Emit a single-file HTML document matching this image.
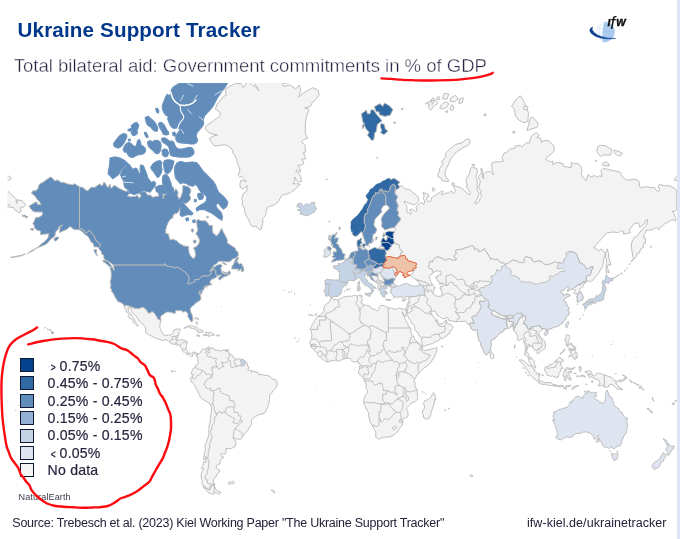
<!DOCTYPE html>
<html lang="en">
<head>
<meta charset="utf-8">
<title>Ukraine Support Tracker</title>
<style>
html,body{margin:0;padding:0;background:#fff;}
body{width:680px;height:539px;position:relative;overflow:hidden;font-family:"Liberation Sans",Arial,sans-serif;}
#strip{position:absolute;left:677px;top:0;width:3px;height:539px;background:#dbe7f7;}
#title{position:absolute;left:17.5px;top:17.9px;font-size:20.6px;line-height:24px;font-weight:bold;color:#00378a;white-space:nowrap;letter-spacing:0.155px;}
#subtitle{position:absolute;left:13.8px;top:54.7px;font-size:18.6px;line-height:22px;color:#262240;white-space:nowrap;letter-spacing:-0.04px;-webkit-text-stroke:0.42px #fff;}
#map{position:absolute;left:0;top:0;width:680px;height:539px;}
#legend{position:absolute;left:0;top:0;}
.lg{position:absolute;left:20px;width:14px;height:14px;box-sizing:border-box;border:1px solid #101a33;}
.lt{position:absolute;left:47.6px;font-size:14.1px;line-height:16px;color:#26263f;white-space:nowrap;letter-spacing:0.2px;-webkit-text-stroke:0.2px #26263f;}
.ch{display:inline-block;width:7.9px;font-size:10.5px;line-height:10px;text-indent:1.6px;letter-spacing:0;-webkit-text-stroke:0.35px #26263f;transform:scale(0.8,1.08);transform-origin:8px 60%;}
#ne{position:absolute;left:18.5px;top:492px;font-size:9.1px;line-height:11px;color:#3f3f50;white-space:nowrap;letter-spacing:0.1px;}
#source{position:absolute;left:12.3px;top:516px;font-size:12.5px;line-height:14px;color:#22223a;white-space:nowrap;letter-spacing:-0.245px;}
#url{position:absolute;left:527px;top:516px;font-size:12.5px;line-height:14px;color:#22223a;white-space:nowrap;letter-spacing:0.05px;}
#logo{position:absolute;left:580px;top:5px;width:60px;height:45px;}
#anno{position:absolute;left:0;top:0;width:680px;height:539px;pointer-events:none;}
.c0{fill:#f3f3f3;stroke:#bbbbbb;stroke-width:0.95;stroke-linejoin:round;}
.c1{fill:#dee5f0;stroke:#bbbbbb;stroke-width:0.95;stroke-linejoin:round;}
.c2{fill:#c4d4e6;stroke:#bbbbbb;stroke-width:0.95;stroke-linejoin:round;}
.c3{fill:#94b0d2;stroke:#bbbbbb;stroke-width:0.95;stroke-linejoin:round;}
.c4{fill:#628dba;stroke:#bbbbbb;stroke-width:0.95;stroke-linejoin:round;}
.c5{fill:#3069a3;stroke:#bbbbbb;stroke-width:0.95;stroke-linejoin:round;}
.c6{fill:#04428e;stroke:#bbbbbb;stroke-width:0.95;stroke-linejoin:round;}
.ua{fill:#efc2aa;stroke:#e2613a;stroke-width:1;stroke-linejoin:round;}
.s4{stroke:#6b93be;stroke-width:1.1;}
.s5{stroke:#3069a3;stroke-width:0.6;}
.bd{fill:none;stroke:#bbbbbb;stroke-width:0.95;stroke-linejoin:round;}
.wl1{fill:none;stroke:#fff;stroke-width:1.5;stroke-linecap:round;stroke-linejoin:round;}
.wl2{fill:none;stroke:#fff;stroke-width:1.1;stroke-linecap:round;stroke-linejoin:round;}
.wl3{fill:none;stroke:#fff;stroke-width:0.7;stroke-linecap:round;stroke-linejoin:round;}
</style>
</head>
<body>
<div id="strip"></div>
<svg id="map" viewBox="0 0 680 539" width="680" height="539">
<defs><clipPath id="mc"><rect x="7.8" y="83" width="669.2" height="425"/></clipPath></defs>
<g clip-path="url(#mc)">
<path class="c0" d="M260,229.9 255.7,226.4 252,226.3 250.3,224.2 249,220.3 245.9,215.4 244.9,212.4 244.6,208.5 242,204.4 242.7,201.1 241.5,199.2 243.3,193.5 246.1,191.8 246.8,189.5 247.2,185.5 245.1,187.1 244,188.2 242.3,188.7 240.1,187.1 240,183.3 240.7,180.5 242.5,180.5 246.3,181.6 243.1,178.2 241.4,176.2 239.6,177 238.1,175.6 240.1,169.8 239,167.3 237.5,163.1 235.3,155.9 232.8,153.1 232.8,150.1 227.8,145.6 223.9,144.8 218.9,145.6 214.4,145.9 212.3,143.2 209,138.4 213.9,135.9 217.6,135 209.8,133.3 205.5,129.4 205.8,126.1 212.7,121.4 219.6,116.4 220.4,112.7 215.4,109.1 216.9,104.7 223.4,96.5 226.1,95.3 225.3,89.3 229.7,86.3 235.5,83.6 241.2,83.6 243.3,87.6 248.1,80.8 252.6,85.5 255.2,86.4 259.1,90.8 254.6,83.6 254.8,78 261.1,68.9 267.7,68.9 270.1,64.1 276.6,62.4 291.5,64.1 303.2,76.5 299.7,82.2 292.6,82.2 282.5,83.6 283.5,86.3 290,85 295.8,88.9 299.3,85 300.8,90.2 298.7,97.1 303.6,92.8 312.5,87.6 318.1,90.2 319.2,95.3 311.6,103.6 310.6,106.4 304.6,108 309,109.1 306.7,116.4 305.3,122.8 305.3,133.3 307.5,138.4 304.7,139.2 301.5,141.6 305.1,145.6 305.4,152.3 303.4,152.6 305.8,158.7 301.7,159.4 303.9,162.1 303.3,164.1 300.6,165.4 298,165.4 300.4,169.8 300.4,172.3 296.7,169.8 295.8,171.7 298.4,172.9 300.8,176.5 301.4,181.3 298.2,182.2 296.7,180.2 294.5,177 295,180.8 292.8,183.8 297.8,183.8 300.3,184.4 295.4,188.9 290.4,192.8 284.8,194.8 282.7,194.8 280.9,196.8 278.3,201.6 274.3,205 273,205.1 270.4,206.2 267.8,207.1 266.2,210.2 266.2,213.3 265.2,215.8 262.3,219.1 263,222.3 262.1,225.4 261.1,229.2Z"/>
<path class="c4" d="M79.5,186.8 83,187.6 86,190.3 87.9,190.8 89.5,188.7 91.8,187.1 94.6,187.6 97.4,185.5 100.3,183.8 101.6,186 102.9,184.9 103.5,182.2 104.8,182.7 107.8,187.6 110.4,183.8 110.6,188.2 112.8,187.1 113.5,185.5 115.8,186 118.8,188.2 123,190.3 125.6,191.3 127.5,190.8 129.9,193.3 127.3,195.8 130.7,196.8 135.7,196.3 137.4,195.3 139.2,198.3 141.3,195.8 139.4,193.8 140.5,192.1 142.9,191.8 144.3,191.3 145.9,192.3 147.8,195.3 149.8,194.8 153,197.3 156,196.3 158.8,196.3 158.4,193.3 160.1,192.3 163.1,194.3 163.1,198.8 164.2,194.8 165.7,194.8 166.6,189.7 164.5,186.6 162.3,184.4 162.5,178.2 164.7,174.1 167.1,174.7 169,177.6 171.6,183.8 169.9,186.6 173.5,187.6 173.3,192.8 175.9,188.7 178.1,192.3 177.6,195.8 179.2,199.2 181.3,195.8 182.6,191.3 182.8,185.5 185.4,186 188.2,186.6 190.6,189.2 190.8,191.8 189.4,194.8 190.6,197.3 190.4,199.7 186.9,203 184.3,203.5 182.2,202.1 181.7,204.4 180,208.5 179.4,210.2 177.2,213.3 174.6,213.7 173.1,215.4 172.9,218 170.9,218.7 168.5,221.9 166.6,226.2 165.8,229.2 165.7,233.6 168.5,233.9 169.2,237.5 170.1,239.9 172.7,239.2 176.3,240.6 178.1,242 179.4,243.6 181.7,244.6 183.7,245.9 186.7,246.3 188.7,246.6 188.6,249.2 189.1,252.3 190.4,255.7 193.2,258.7 194.7,257.8 195.6,254.5 194.7,249.8 193.4,247.9 196.4,246.6 198.4,244.3 199.5,242 199.3,239.6 198,236.4 195.8,233.9 198,229.9 197.1,226.5 196.6,220.7 197.9,219.5 201,220.7 202.9,221.1 204.6,220.3 206.2,221.5 208.5,223.8 209,225.4 212.4,225.4 212.4,228.8 212.9,233.2 214.6,233.9 216.1,236.1 218.7,233.9 220.6,229.9 221.7,228.4 223.2,231.8 225.6,236.1 227.6,240.4 226.9,242.6 229.3,244.3 235.3,248.2 236,250.7 237.3,251.4 238.1,252.3 238.2,256 236.9,256.9 235.6,258.1 232.5,259 230.2,261.6 227.1,261.9 223,261.3 220.2,261.3 218.3,261.6 216.8,263.7 214.4,264.8 211.7,268.7 209.6,271.2 211.1,270.7 214.1,267.1 218.1,264.8 220.8,264.5 222.4,265.9 220.8,267.6 221.3,270.7 221.9,272.8 224.3,274.2 227.5,273.6 229.3,270.7 229.5,272.5 230.6,273.6 228.4,275.2 224.2,276.8 222.3,277.8 220.2,279.9 218.9,279.7 218.7,277.3 222.1,275.2 219.1,275.2 217,275.7 215.7,274.2 215.7,270.4 215,269.7 213.7,270.1 213.1,269.6 211.6,271.5 211.1,273.6 210.3,275 209,275.4 208.8,276 202.5,276 199.7,278.4 199,279.7 195.4,279.7 194.5,279.9 194.9,280.4 195.1,281.4 192.6,282.7 190.6,283.2 188.6,284.5 187.3,283.5 188.6,281.2 189.1,279.7 188.2,275.2 186.3,273.9 186.5,273.4 185.4,272 184.1,271.7 180.9,269.1 177.4,267.1 175.7,268 175.2,267.9 172.9,267.1 169.6,266.6 166.4,265.9 165.8,265.7 165.5,263.9 164.7,263.9 164.8,265.1 113.3,265.1 112.6,264.2 109.5,262.2 108.1,261.1 104.8,259.9 103.7,257.2 104,255.4 101.6,253.9 101.3,251.4 99,249.2 98.8,247.6 100,245.9 100,243.6 96.6,241.6 93.6,235.4 90.8,232.1 89.7,230.3 86,233.2 83.2,229.6 79.5,228.4 79.5,186.8Z"/>
<path class="c4" d="M79.5,186.8 79.5,228.4 83.2,229.6 86,233.2 89.7,230.3 90.8,232.1 93.6,235.4 96.6,241.6 100,243.6 100,245.9 98.8,247.6 96.8,246.9 94,246.9 93.4,243.6 91,242 89.4,238.5 87.7,236.1 85.3,234.7 81.7,231 78.6,229.6 74.1,229.6 70.2,226.5 66.5,229.6 63.7,230.7 59.4,232.5 60.1,226.9 62.7,225 59.6,226.2 57.9,229.6 55.5,232.1 54.9,236.1 51,238.9 47.1,243.6 43.2,245.6 38.7,247.2 35.2,248.8 38.5,246.6 41.3,244 44.1,242 47.8,238.2 49,233.9 46.9,233.9 43.6,234.3 40.4,234.7 40.6,231 37.1,230.3 34.3,227.7 34.3,225.4 32.8,223.8 35,219.5 35.6,217.4 38.5,217.4 41.3,215.8 42.6,214.5 42.3,212 41.3,212 38.9,212 35,212 32.2,210.7 29,206.2 31.7,204.4 35.7,202.1 37.2,202.1 37.1,204.4 41,204.4 39.5,201.6 37.2,199.7 35.9,197.3 34.1,195.3 31.5,193.3 32.6,190.8 35.9,190.8 38.2,188.2 38.7,185.5 40.6,183.3 42.4,182.7 46,179.9 50.5,177 53.2,178.8 54.7,181.1 57.2,179.9 58.6,180.5 61.4,182.7 63.3,182.2 67.2,183.8 70.7,184.4 72.2,184.9 74.6,183.8 77.4,185.5Z"/>
<path class="c4" d="M217,275.7 217.2,276.5 215.4,277.8 213.3,278.7 211.4,279.4 210.5,280.9 210.1,281.4 210.1,283 210.7,284.2 211.4,284.2 211.3,283.5 211.8,284 211.7,284.7 210.5,285 209.6,285 208.2,285.5 207.4,285.5 206.2,285.7 204.7,286.4 207.5,285.9 208.1,286.4 205.5,287.2 204.2,287.2 203.7,287.4 204.3,287.7 203.8,289.4 202.5,291.3 202.4,290.6 202,290.5 201.4,289.9 201.8,291.2 202.2,291.5 202.2,292.5 201.6,293.4 200.7,295.3 200.5,295.2 201,293.7 200.1,292.7 199.8,290.7 199.5,291.8 199.9,293.2 198.6,293 199.9,293.7 200,295.8 200.5,296 200.7,296.8 201,299.1 199.7,300.8 197.9,301.5 196.6,302.9 195.7,303 194.8,303.8 194.5,304.5 192.5,306 191.4,307 190.5,308.3 190.2,309.8 190.6,311.3 191.2,313.2 192.1,314.6 192.1,315.6 192.9,318 192.8,319.4 192.8,320.3 192.3,321.5 191.8,321.8 190.8,321.5 190.5,320.6 189.9,320.1 188.9,318.3 188,316.7 187.7,315.9 188.1,314.5 187.6,313.3 186.1,311.6 185.4,311.2 183.5,312.2 183.2,312.1 182.3,311.1 181.1,310.6 179,310.8 177.4,310.6 175.9,310.8 175.2,311.1 175.5,311.7 175.5,312.5 175.9,312.9 175.5,313.2 174.8,312.9 174.1,313.3 172.8,313.2 171.4,312.1 169.8,312.4 168.5,311.9 167.2,312.1 165.7,312.5 164,314.1 162.1,315 161.1,316 160.7,317 160.7,318.4 160.8,319.4 161.1,320.1 160.4,320.2 159.1,319.7 157.6,319.1 157.1,318.1 156.7,316.6 155.6,315.4 154.9,314.2 154,312.8 152.7,311.9 151.2,311.9 150,313.6 148.5,313 147.5,312.3 147,311.2 146.4,310 145.3,309.1 144.4,308.4 143.7,307.6 140.5,307.6 140.5,308.5 135.3,308.5 131,307 128.2,305.9 128.4,305.5 123.9,305.9 123.6,304.8 122.4,303.5 121.5,303.2 121.3,302.6 120.3,302.5 119.6,301.9 117.9,301.6 117.4,301.3 117.2,300 115.4,297.7 113.8,294.5 113.9,294 113.1,293.2 111.6,291.2 111.4,289.2 110.4,287.9 110.8,285.8 110.8,283.7 110.1,281.8 110.9,279.4 111.3,274.7 111,271 110.4,268.7 109.8,267.4 110.1,266.8 112.8,267.8 113.8,270.4 114.2,269.7 113.9,267.4 113.3,265.1 164.8,265.1 164.7,263.9 165.5,263.9 165.8,265.7 166.4,265.9 169.6,266.6 172.9,267.1 175.2,267.9 175.7,268 177.4,267.1 180.9,269.1 184.1,271.7 185.4,272 186.5,273.4 186.3,273.9 188.2,275.2 189.1,279.7 188.6,281.2 187.3,283.5 188.6,284.5 190.6,283.2 192.6,282.7 195.1,281.4 194.9,280.4 194.5,279.9 195.4,279.7 199,279.7 199.7,278.4 202.5,276 208.8,276 209,275.4 210.3,275 211.1,273.6 211.6,271.5 213.1,269.6 213.7,270.1 215,269.7 215.7,270.4 215.7,274.2 217,275.7Z"/>
<path class="c0" d="M123.9,305.9 124.7,308 126,309.7 126.6,312.1 129.4,314.4 129.4,315.5 127.8,316.3 128.6,317.6 130.5,318.6 132,319.2 133.1,320.9 133.2,322.5 134.2,323.1 135.4,324 136.6,325.2 137.4,326.4 138.3,325.6 138.3,325.2 137.5,324 136.8,323.4 135.9,322.3 134.8,320.5 134.2,318.4 132.5,317.4 132,316.1 131.4,314.8 131,314 129.7,312.3 128.4,311.1 128.1,308.4 128.3,307.5 131.3,308.9 131.7,311.4 133,313 134.2,314.6 136.1,316 137.6,318.4 138.5,319 138.6,320.7 140.2,321.6 141.1,322.9 143,324.4 144.6,326.4 145.2,327.4 145.6,329.2 146,329.8 145.6,330.4 145.7,331 145.2,331.2 146.5,333.4 148.4,334.6 149.3,335.3 152.1,336.1 153.9,337.5 156,338.3 157.8,338.9 160.8,340 163.2,340.5 165.7,339.4 168.1,340.6 170.3,342.7 172.2,343.9 174.2,344.3 175.7,344.6 177.2,345.2 178.5,344.8 179.1,345.6 179.4,345.6 180.9,347.3 182.4,349.2 182,350.7 183.5,352 184.5,352 186.3,353.6 186.5,354.2 187.6,354.9 189.3,354.7 190.2,355.6 191.3,356.6 192.3,356.4 193,356 192.3,354.5 194.7,353.2 195.8,354.3 196.4,354.5 196.9,356.6 198,353.8 195.8,352.4 193.8,352 191.3,353.4 190.4,353.6 188.9,352.8 188.3,352.1 186.7,350.5 186.2,349.5 185.8,348.7 186.5,346.7 186.4,345.4 187.1,343.1 187.2,341.8 184.8,340.1 183,340 181.9,339.8 180,340.1 178.3,340.1 177.8,340.4 176.4,340 177.6,338.9 177.9,335.7 177.6,335 178.5,335.4 179.2,333 179.2,331.5 180.3,330.3 180.4,329.4 179.9,329 177.2,329 173.8,330 173.5,330.6 173.6,332.2 171.8,334.2 170.7,334.6 169.2,335 166.2,335.7 163.4,334.3 162.1,332.2 161,330.8 160.1,328.2 159.8,327.2 160.1,323.4 161.1,320.1 160.4,320.2 159.1,319.7 157.6,319.1 157.1,318.1 156.7,316.6 155.6,315.4 154.9,314.2 154,312.8 152.7,311.9 151.2,311.9 150,313.6 148.5,313 147.5,312.3 147,311.2 146.4,310 145.3,309.1 144.4,308.4 143.7,307.6 140.5,307.6 140.5,308.5 135.3,308.5 131,307 128.2,305.9 128.4,305.5 123.9,305.9Z"/>
<path class="bd" d="M170.3,342.7 170.5,341.6 171.2,339.6 173.5,339.6 173.7,339.1 171.8,337.4 172.5,337.4 172.5,336.3 176,336.3 176,337.9 175.9,340 176.4,340M176,336.3 177.6,335M174.2,344.3 175,343.3 175.6,342.9 176,342.3 177.8,340.4M175.6,342.9 177.2,343.7 178.5,344.8M179.4,345.6 180.5,345 181.7,343.7 183.5,342.6 184.8,342.3 187.2,341.8M182.4,349.2 184.3,349.4 186.2,349.5M187.6,354.9 187.6,353 188.3,352.1"/>
<path class="c0" d="M183.8,328.3 184.8,327.6 186.5,326.6 188.4,325.8 190.4,325.8 191.9,325.8 193.6,326.5 196.1,327 198.3,328.7 199.5,329.6 201.2,330 202.5,330.6 203.8,331.4 203.6,331.9 201.2,332.3 197.3,332.3 198.4,331.2 197.7,330.7 196.6,330.5 195.8,330 195.4,328.8 194.3,328.9 192.6,328.4 189.7,327.6 188.9,327.2 187.8,326.6 185.8,327.7 184.6,328.4Z"/>
<path class="c0" d="M203.3,335.2 204,334.6 206.6,335.1 206.4,333.8 205.3,332.8 205.7,332.2 206.8,332.3 208.5,332.6 210.1,332.2 211.6,332.7 212.1,333.4 213.1,333.4 214.1,334.1 214.8,334.8 214.1,335.5 211.7,335.1 210.7,335.6 209.8,335.4 209,336.7 208.5,335.9 207.2,335.5 205.2,335.5 204.4,335.9Z"/>
<path class="bd" d="M208.5,332.6 208.7,333.6 208.5,334.4 207.9,335.3 208.5,335.9"/>
<path class="c0" d="M196.2,335.4 197.1,334.9 198.8,335.1 200.1,336.1 198.8,336.2 198.2,336.5 196.4,335.5Z"/>
<path class="c0" d="M216.8,335 218.5,335 219.8,335.5 219.4,336 216.8,336Z"/>
<path class="c0" d="M226.7,351.1 228.4,351.1 228.6,349.7 227.1,349.9Z"/>
<path class="c0" d="M196.4,321.5 196.9,321.5 197.7,323.4 197.1,324.6 196,322.7Z"/>
<path class="c0" d="M197.1,317.8 198.6,318.6 198.2,320.1 197.9,319.9 198,318.8 197.1,318.6 195.1,319 194.9,318.2Z"/>
<path class="c4" d="M238.4,258.4 237.5,260.2 236.2,262.8 237.5,261.8 238.6,262.5 238.1,263.4 239.7,264.2 240.5,263.5 242.3,264.4 241.8,266.5 243.1,265.9 243.3,267.4 243.9,269.3 243.1,271.6 242.3,271.7 241,271.2 241.5,269 241,268.6 238.8,270.9 237.7,270.9 239,269.6 237.2,269 235.3,269 231.6,269 231.4,268.2 232.5,267.2 231.7,266.5 233.2,264.8 235.2,260.2 236.4,258.4 237.9,257.5 238.8,257.5Z"/>
<path class="c4" d="M222.8,271.3 224.1,272.3 226.5,272.1 225.6,273.4 224.8,273.4 222.6,272.3Z"/>
<path class="c4" d="M221.9,262.6 224.7,263.1 226.9,264.8 224.8,264.5 222.4,263.1Z"/>
<path class="c4" d="M102.9,259.9 107.4,261.3 108.5,262.2 112.1,266.5 111.1,266.8 108,265.7 107.5,264.5 105.8,263.7 105.5,262.8 103.6,262.2 102.9,260.8Z"/>
<path class="c4" d="M94,249.5 96.8,249.8 96.2,253.2 97.7,255.7 97,255.7 95.9,254.5 95.3,252.9 94.3,252Z"/>
<path class="c4" d="M57.2,239.9 55.3,241.3 54.4,240.3 54,238.5 55.7,237.5 56.8,236.9 58,237.1 58.8,238.2Z"/>
<path class="c4" d="M22.3,214.5 23.5,215.4 24.6,214.9 26.1,216.2 27.9,216.6 27.7,217 26.4,217.9 25,217 24.2,216.2 22.6,216.6Z"/>
<path class="c4" d="M30.4,228.8 33,228.4 33.7,229.9 32.6,230.3 30.4,229.6Z"/>
<path class="c4" d="M35.2,248.8 32,250.4 29.2,252 27.4,253.6 29.2,252.6 31.8,251.4 35,249.5Z"/>
<path class="c4" d="M25.5,253.9 20.9,255.4 17.1,256 13.4,256.9 10.6,257.2 13.2,257.5 17.5,256.6 21,256Z"/>
<path class="c4 s4" d="M175,166.2 176.9,163.1 180,161.5 183.1,161.9 185.6,162.8 188.8,162.2 192.5,162 196.2,162.5 198.8,165 200.6,167.5 203.1,171.2 206.9,175 210,178.1 213.1,181.2 215.6,185 216.9,188.8 218.8,192.5 222.5,195.6 225.3,198.5 227.9,202.1 226.7,206.5 223.5,209.1 220.9,206.5 218.2,202.9 215.6,205.1 217.3,208.6 220.9,212.1 222.6,216.7 221.8,220.2 219.1,218.5 215.1,215.6 212.1,213.2 208,211.4 204.1,209.6 200.2,209.6 196.7,211.1 196.2,208.2 199.7,205.6 203.2,203.8 206.2,201.2 206.8,196.8 204.1,194.1 201.5,192.4 199.2,189.7 197.4,186.2 195.3,184.4 192.6,186.2 189.1,185.3 186.5,183.5 182.6,182.6 180.6,183.8 178.1,181.2 175.6,178.1 174.8,173.8 174.4,170Z"/>
<path class="c4 s4" d="M180,203.1 182.8,202.5 185.6,206 189.4,210 193.1,213.5 191.2,215 188.1,214.4 185,215.6 182.2,216.5 180,214.8 180.8,208.8Z"/>
<path class="c4 s4" d="M198,193.6 201.8,193 203.5,196 202.6,199 199.2,199.6 197.8,196.6Z"/>
<path class="c4 s4" d="M194.5,199.5 196.5,199.8 196,202 194.3,201.5Z"/>
<path class="c4 s4" d="M192.6,220.6 194.9,219.7 195.3,222.3 193.2,222.7Z"/>
<path class="c4 s4" d="M185.6,218.5 188.2,217.8 188.6,220.2 186.5,220.9Z"/>
<path class="c4 s4" d="M180,83.1 227.5,83.1 225,87.5 221.9,91.2 219.4,95 216.9,98.8 215,102.5 213.1,106.2 210,110 206.9,113.1 204.4,116.2 203.1,120 203.8,123.8 201.9,126.9 199.4,130 197.2,132.5 196,136.2 197.8,140 196.5,142.5 193.8,144 190.6,144 187.5,143.5 184.4,143.2 181.2,143 178.5,142.5 176.5,141 175.6,138.1 176.5,135 178,132.5 180,130.5 179.4,128.8 176.9,127.8 174.4,128.5 171.9,127.5 170,125 168.8,121.9 167.5,118.8 168.8,116.9 165.6,115 163.8,112.5 162.5,109.4 162.2,106.2 163.1,103.1 164.4,100 165.6,96.9 166.9,94.4 170,95.6 171.5,92.5 171.2,90 173.1,87.2 176.5,85Z"/>
<path class="wl1" d="M170.8,92.5 172.8,98.5 175.6,102.2 179.8,105 184.4,105.4 189.4,104.6 193.1,102.8 196,100.2"/>
<path class="wl2" d="M180,105.2 180.8,111.2 183.8,116.2 183.2,119 180.6,121.9 178.5,125.6 177.8,129"/>
<path class="wl3" d="M187.5,109.4 191.5,114M180.6,100.6 183.5,95.2M194,100.6 197.2,95.2M215,95 221.5,91M199.4,116.9 203.1,120M181.2,129.4 183.8,133.8M187.5,83.8 193.1,86"/>
<path class="c4 s4" d="M161.5,138.5 164.6,137.7 167.2,139.2 169.4,141.2 172.1,141 173.8,142.1 174.7,144.7 176,147.4 178.2,148.7 181.8,149.1 185.3,148.2 188.8,147.4 191.9,147.8 193.7,150 194.1,152.7 192.8,154.9 190.2,156.6 187.1,157.1 183.5,156.9 180,157.1 176.5,156.6 172.9,156.2 170.8,155.3 169.9,152.7 169.6,150 169,147.4 167.7,145.6 165.9,144.3 163.7,142.9 161.9,140.8Z"/>
<path class="c4 s4" d="M162.4,131.5 165.4,131 168.5,131.9 168.7,133.7 166.3,134.6 163.2,134.1Z"/>
<path class="c4 s4" d="M161.9,150.6 164.4,148.8 167.2,149.8 168.5,153.1 167.5,156.2 165,156.9 162.5,155Z"/>
<path class="c4 s4" d="M164.4,160.6 167.5,159.8 171.2,160 174,161.2 173.1,165 171.9,168.8 170,171.9 167.5,173.8 165.6,173.1 164.4,170 163.8,166.2 163.5,163.1Z"/>
<path class="c4 s4" d="M155.6,109 157.2,108.1 158.8,110.6 158.5,113.1 156.9,112.5Z"/>
<path class="c4 s4" d="M145.2,117.5 148.1,116.2 151.2,118.8 153.8,121.2 156.2,124.4 157.8,128.1 157.5,131 155,131.2 152.5,129.4 150.6,126.9 148.1,125.6 146.5,123.1 145.6,120Z"/>
<path class="c4 s4" d="M158.8,123.1 161.2,122.2 163.8,124.4 165.6,127.5 167.5,131.2 168.8,133.8 166.9,135 163.8,134.4 161.9,131.2 160,128.1 158.8,125.6Z"/>
<path class="c4 s4" d="M131.2,125.6 134.4,123.1 136.9,122.5 138.8,125 138.1,128.1 136.9,130 137.5,133.1 135.6,135 133.1,135.6 131.2,133.1 131.9,130.6 129.4,131.2 127.8,130 129.4,129 131.9,128.1Z"/>
<path class="c4 s4" d="M113.5,143.8 115.6,140.6 118.1,137.5 120.6,135 123.8,133.5 126.5,134.4 126.9,136.9 125.6,139.4 124.4,142.5 122.5,145 120.6,146.9 118.8,148.1 116.2,147.5 114,146.2Z"/>
<path class="c4 s4" d="M144.4,132.5 146,132.2 147.5,135 148.1,137.2 146.5,137.5 145,135Z"/>
<path class="c4 s4" d="M123.8,147.5 125.6,144.4 128.1,142.5 130.6,143.1 133.1,145.6 135.6,146.9 136.9,143.8 137.5,140.6 139.4,139.4 140.6,141.9 141,145 143.1,146.2 145.2,148.1 145.6,151.2 143.8,153.8 140.6,154.4 137.5,155 135,156.2 132.5,157.5 130,156.9 128.1,155 126.9,152.5 124.4,151.9 123.1,150Z"/>
<path class="c4 s4" d="M147.5,141.9 150,140.6 152.5,141.9 155,140.2 158.1,140.6 160.6,142.5 161.2,146.2 160.6,150 158.8,153.1 156.2,153.8 154.4,151.9 152.5,150 150,148.1 148.1,145.6Z"/>
<path class="c4 s4" d="M172.5,132.8 174.4,131.9 175.9,134 175,136.2 173.1,135.6Z"/>
<path class="c4 s4" d="M128.1,139.4 130,139 130.6,140.6 128.8,141Z"/>
<path class="c4 s4" d="M110,158.1 115,156.9 120,158.1 123.8,160 126.9,162.5 129,164.8 126.2,165.6 123.1,167.5 120.6,170.6 118.8,174.4 115.6,176.9 112.5,178.8 110.6,176.2 108.1,173.8 108.5,170 109.4,166.2 109.8,161.9Z"/>
<path class="c4 s4" d="M129.4,164.4 126.9,166.2 123.8,168.1 121.2,171.9 120.6,175 121.9,178.1 123.8,181.2 124,185 125,187.5 128.1,189.8 130,193.1 133.8,194.6 137.5,193.5 141.2,191.9 143.8,190.2 145.6,191 150,192.2 152.5,188.8 155,186.2 155.6,183.1 153.8,181.2 151.2,182.5 149.4,180 147.5,177.5 146.9,174.4 145.6,171.2 144.4,168.1 143.1,165.6 140.6,165 140,168.8 140.6,173.1 139.8,174.4 138.1,171.2 136.9,168.8 135,168.1 133.1,169.4 131.2,167.5 130,165.6Z"/>
<path class="wl3" d="M124,182.2 133.1,182.8M122.5,176.9 125.6,176.2"/>
<path class="c4 s4" d="M150.6,167.5 153.1,163.8 156.9,161.2 160,160.6 161.9,162.5 161.2,166.2 162.1,169.4 161.2,173.1 159.4,176.2 157.5,177.5 155.6,175 153.8,171.9 151.9,170Z"/>
<path class="c4 s4" d="M155.6,187.5 158.8,185.6 161.9,185.2 165,186.9 167.5,190 166.2,193.1 162.5,193.8 158.8,193.1 156.2,191.2Z"/>
<path class="c4 s4" d="M163.1,175.6 165.6,174.8 168.1,176.5 169.8,180.6 171,184.4 172.2,187.5 173.8,190 173.1,193.1 170,193.8 166.9,193.1 165,190 163.8,186.2 162.8,182.5 162.5,178.8Z"/>
<path class="c4" d="M51.5,332.5 51.8,331.5 53.1,332.1 53.8,333 52.4,333.8 51.8,333.8Z"/>
<path class="c4" d="M50.3,330.2 51.1,330.2 51.6,330.5 50.8,330.8Z"/>
<path class="c4" d="M49.1,329.8 50.2,329.7 49.7,330Z"/>
<path class="c4" d="M47.4,328.9 47.9,328.7 48.4,329.4 47.7,329.4Z"/>
<path class="c4" d="M44.5,327.9 45.3,327.6 45.1,328.2Z"/>
<path class="c4" d="M191.3,229.2 192.8,228.8 193.6,230.5 192.9,232.3 191.5,231.6Z"/>
<path class="c4" d="M193.2,240.3 195.6,240 196.3,241.6 195.2,243.4 193.5,242.6Z"/>
<path class="c4" d="M206.5,216.5 208.2,216.2 208.6,217.6 207,218Z"/>
<path class="c4" d="M227.5,274.4 229.5,273.4 230.4,272.8 229.5,270.7 228.4,271.7 227.5,273.1Z"/>
<path class="c0" d="M198,353.8 199,353.9 200.3,352.6 201,352.4 201.4,350.2 202.5,349.2 203.6,349.2 205.3,349 207.5,347.6 208.4,346.7 209,346.7 209.6,347.3 209.2,347.9 209.1,348.5 208,348.6 208.7,349.5 208.7,350.4 207.7,351.5 208.5,353 209.3,352.9 209.7,351.6 209.1,350.9 209,349.5 211.3,348.6 211.1,347.8 211.8,347.2 212.4,348.5 213.7,348.6 215,349.6 215,350.3 216.7,350.3 218.7,350.1 219.7,350.9 221.1,351.1 222.2,350.6 222.2,350.1 226.7,350 225.2,350.5 225.8,351.4 227.3,351.5 228.8,352.5 229,354 230,353.9 230.7,354.4 231.9,355.1 233.1,356.3 233.1,357.3 233.8,357.3 234.8,358.2 235.5,358.9 237.8,359.2 238,358.9 239.5,358.8 241.5,359.3 242.2,359.5 243.5,359.9 245.5,361.5 245.8,362.3 246.4,362.2 246.9,363.2 247.9,366.5 248.9,366.8 248.9,368 247.6,369.6 248.1,370.1 251.4,370.4 251.5,372.3 252.9,371.1 255.2,371.7 258.3,372.9 259.2,374 258.9,375 261.1,374.4 264.7,375.4 267.5,375.3 270.3,376.9 272.6,379 274.1,379.5 275.7,379.6 276.3,380.2 277,382.6 277.3,383.7 276.5,386.8 275.6,388 273,390.7 271.8,392.8 270.4,394.5 269.9,394.5 269.4,395.9 269.6,399.5 269,402.5 268.8,403.8 268.2,404.6 267.9,407.2 266,409.8 265.7,411.9 264.2,412.7 263.8,413.9 261.8,413.9 258.8,414.7 257.5,415.6 255.4,416.2 253.2,417.9 251.6,419.9 251.4,421.4 251.7,422.6 251.4,424.7 250.9,425.7 249.6,426.9 247.6,430.7 245.9,432.4 244.6,433.5 243.8,435.6 242.6,436.8 241.8,438.3 239.7,439.5 238.3,439.1 237.3,439.3 235.6,438.3 234.3,438.4 233.2,437.1 233,438.3 235.4,440.3 235.2,441.9 236.3,442.9 236.2,444 234.4,447 231.7,448.3 227.9,448.8 225.9,448.5 226.3,450 225.9,451.8 226.2,453 225.1,453.9 223.2,454.2 221.4,453.3 220.7,454 221,456.4 222.2,457.2 223.2,456.4 223.8,457.7 222.1,458.5 220.6,460.1 220.3,462.7 219.9,464.1 218.1,464.1 216.7,465.4 216.1,467.5 218,469.4 219.7,470 219.1,472.5 216.9,474.1 215.7,477.4 214,478.5 213.2,479.9 213.8,483 215.1,484.8 214.3,484.6 212.6,484.6 211.7,485.3 210,486.4 209.8,489.3 209,489.4 206.9,488.4 204.7,486.3 202.4,484.5 201.8,482.6 202.4,480.8 201.4,478.9 201.2,474 202,471.3 203.9,469.2 201.1,468.4 202.9,466 203.5,461.6 205.6,462.5 206.6,457.2 205.3,456.6 204.7,459.8 203.6,459.4 204.1,455.8 204.8,451.2 205.6,449.6 205.1,447.2 205,444.6 205.7,444.5 206.9,440.8 208.2,437.2 209,433.8 208.5,430.6 209.1,428.8 208.9,426.1 209.9,423.6 210.3,419.5 210.9,415.3 211.5,410.8 211.3,407.5 210.9,404.8 209.1,403.6 208.9,402.8 205.2,400.9 201.9,398.8 200.4,397.6 199.7,396 200,395.4 198.4,392.9 196.6,389.4 194.8,385.7 194,384.8 193.5,383.4 192,382.2 190.7,381.4 191.3,380.6 190.4,378.8 191,377.5 192.5,376.3 193.4,375 193,374.1 192.3,375 191.2,374.2 191.6,373.7 191.3,372 191.9,371.7 192.3,370.5 193,369.3 192.9,368.6 193.9,368.2 195.1,367.4 194.9,366.9 195.6,366.7 195.5,365.8 195.9,365.1 196.9,365 197.7,363.8 198.4,362.8 197.7,362.4 198,361.3 197.6,359.6 198,359.1 197.7,357.5 197,356.5Z"/>
<path class="c0" d="M214.2,485.6 214.9,487.1 215.8,489.4 218.2,491.3 220.8,492.1 220,493.7 218.2,493.9 217.3,492.8 216.2,492.7 214.2,492.7 213.1,494.7 211.6,493.7 209.8,493.2 207.4,491.5 205.5,489.8 203,486.3 204.5,486.9 207.1,489 209.6,490.1 210.5,488.7 211.1,486.5 212.8,485.3Z"/>
<path class="c0" d="M228,483.2 230.2,481.4 231.8,482.2 232.9,481 234.4,482.3 233.9,483.4 231.4,484.3 230.5,483.2 228.9,484.6Z"/>
<path class="c0" d="M271.2,489.9 273.1,490.2 275.3,492.4 274.4,492.8 272.3,491.2Z"/>
<path class="c2" d="M241.5,359.3 242.2,359.5 243.5,359.9 245.5,361.5 245.8,362.3 244.7,364 244.1,365.3 243.4,366.1 242.5,366.2 242.2,365.7 241.8,365.6 241.2,366.1 240.4,365.7 240.9,364.9 241.1,364.1 241.4,363.3 240.7,362.2 240.5,360.9Z"/>
<path class="bd" d="M209.2,347.9 207.5,349.2 206.2,350.4 206,351.8 205.5,352.9 206.4,353 206.7,353.9 207.1,354.3 207.2,355.1 207,355.8 207.1,356.2 207.5,356.3 208,357 210.4,356.8 211.5,357 212.8,358.6 213.5,358.4 214.9,358.5 215.9,358.3 216.6,358.6 216.2,359.6 215.8,360.3 215.7,361.6 216.1,362.8 216.6,363.4 216.7,363.8 215.7,364.7 216.4,365.2 216.9,365.8 217.4,367.7M217.4,367.7 217.1,367.9 216.7,366.8 216.2,366.2 215.6,366.9 212,366.8 212,368 213.1,368.2 213,368.9 212.7,368.7 211.6,369 211.6,370.4 212.4,371 212.7,372.1 212.7,372.9 211.8,378M211.8,378 210.9,377 210.3,377 211.5,375.1 210.1,374.2 209,374.4 208.3,374 207.3,374.5 205.9,374.3 204.8,372.3 204,371.9 203.4,371 202.1,370.1 201.6,370.3M201.6,370.3 200.8,369.9 199.9,369.2 199.4,369.5 197.8,369.3 197.4,368.5 197,368.5 195.1,367.4M201.6,370.3 201.9,371.7 201.3,372.9 199.3,374.9 197,375.6 195.9,377.2 195.6,378.5 194.5,379.2 193.7,378.3 193,378.1 192.2,378.3 192.1,377.6 192.7,377.1 192.5,376.3M211.8,378 210.2,377.9 209.9,378.2 208.4,378.6 206.3,379.8 206.1,380.7 205.6,381.4 205.8,382.4 204.7,382.9 204.7,383.7 204.2,384 205,385.7 206,386.9 205.6,387.7 206.9,387.8 207.6,388.8 209.2,388.9 210.7,387.7 210.6,390.6 211.5,390.8 212.5,390.5M212.5,390.5 214.1,393.6 213.7,394.2 213.6,395.6 213.6,397.2 212.9,398.1 213.2,398.9 212.8,399.5 213.6,401.1 212.4,403.2 211.9,404.2 210.9,404.8M212.4,403.2 213.3,404.6 213.5,406 214.5,406.8 213.9,408.7 214.9,411 215.7,413.7 217,413.5 217.2,414 218.6,411.7 221,412.2 222.1,413.6 222.8,412 224.9,412.1 225.2,412.5M224.9,412.1 226,409 226.9,407.3 230.2,406.7 231.9,406.7 233.6,407.7 233.6,408.4M212.5,390.5 213.9,390.7 214.9,390.6 215.3,390.1 216.9,389.3 217.9,388.6 220.3,388.3 220.1,389.7 220.3,390.4 220.2,391.7 222.2,393.4 224.3,393.7 225,394.4 226.3,394.8 227.1,395.3 228.2,395.3 229.3,395.9 229.4,397 229.8,397.6 229.8,398.4 229.2,398.4 229.9,400.7 233.5,400.8 233.2,401.9 233.4,402.6 234.5,403.2 234.9,404.4 234.6,406 234.1,406.8 234.2,407.9 233.6,408.4M233.6,408.4 234.2,409.5 234.1,412.2 236.1,412.6 236.8,412.2 238.1,412.7 238.4,413.3 238.6,415.2 238.8,416 239.5,416 240.2,415.7 240.9,416.1 240.9,417.2 240.6,418.4 240.2,419.6M225.2,412.5 228.7,415.8 230.2,416.1 232.5,417.6 234.4,418.4 234.7,419.3 232.8,422.5 234.7,423.1 236.8,423.4 238.2,423 239.9,421.4 240.2,419.6M240.2,419.6 242.1,420.4 242.1,422.1 240.5,423.2 239.3,424.1 237.1,426.1 234.7,429.1M234.7,429.1 235.9,428.8 237.7,430.5 238.4,430.4 240.4,431.8 241.8,433 242.9,434.5 242.1,435.6 242.6,436.8M234.7,429.1 234.2,430.8 233.7,433 233.7,435.2 233.3,435.7 233.2,437.1M217,413.5 216.6,416.1 214.6,417.1 214.6,420.5 214.3,421.2 214.8,422 213.5,423.3 212.3,425.3 211.6,427.2 211.8,429.3 210.6,431.5 211.5,435.3 212,435.7 212,437.8 210.9,440 211,441.9 209.5,443.4 209.5,445.6 210.1,447.9 209,448.8 208.5,450.9 208.1,453.4 208.4,456.4 207.6,456.9 208.1,459.9 208.9,460.8 208.3,461.9 209.2,462.4 209.4,463.4 208.5,463.9 208.7,465.5 208.1,469 207.1,471.4 207.3,472.8 206.7,474.6 205.3,475.8 205.4,478.9 206.1,479.9 207.3,479.8 207.3,482 208.1,483.7 212.6,484.1 214.3,484.6M214.2,485.6 214.2,492.7M230.7,354.4 229.2,355.5 229.7,356.9 228.1,357.5 228.1,358.4 227.6,358.9 228.9,360.3 229.1,360.8 228.4,361.5 226.4,362.3 225,362.5 224.5,363 223,362.5 221.6,362.3 221.3,362.4 222.1,362.9 222,364.2 222.3,365.3 223.9,365.5 224,365.9 222.7,366.4 222.4,367.2 221.7,367.5 220.3,368 219.9,368.5 218.5,368.7 217.4,367.7M228.9,360.3 230.3,360.7 230,361.5 230.7,361.8 231.1,362.6 230.6,363.3 230.3,364.9 230.8,365.8 230.9,366.7 232,367.5 233,367.6 233.2,367.3 233.8,367.2 234.6,366.9 235.2,366.4 236.2,366.5 236.7,366.5M235.5,358.9 235.3,360.6 234.1,361 234.2,361.5 233.9,362.4 234.7,363.8 235.3,363.8 235.5,364.8 236.7,366.5 237.7,366.6 237.9,366.2 237.6,365.9 237.7,365.3 238.5,365.5 239.4,365.3 240.4,365.7"/>
<path class="c0" d="M330.9,298.6 332.3,298.6 333.4,299.6 335.1,299.5 337.1,300 337.9,300 339.7,298.8 341.7,298.3 342.8,297.4 344.7,296.7 347.8,296.3 350.9,296.1 351.8,296.4 353.6,295.5 355.6,295.5 356.3,296 357.6,295.9 359.6,295 360.9,295.2 360.9,296.4 362.4,295.6 362.6,296 361.6,297.1 361.6,298.2 362.3,298.8 362,300.8 360.8,301.9 361.2,303.1 362.1,303.2 362.6,304.2 363.3,304.6 365.5,305.3 366.3,305.1 367.8,305.5 370.3,306.5 371.2,308.4 372.8,308.9 375.5,309.8 377.4,310.8 378.3,310.3 379.2,309.3 378.8,307.6 379.4,306.6 380.7,305.5 382,305.2 384.5,305.7 385.2,306.7 385.9,306.7 386.5,307 388.3,307.3 388.7,308 391.2,308 393,308.6 394.9,309.2 395.7,309.5 397.2,308.8 397.9,308.2 399.6,308 400.9,308.3 401.4,309.4 401.8,308.7 403.3,309.2 404.8,309.3 405.7,308.8 406.9,312.5 406.4,313.3 406,315 405.5,316.1 405,316.4 404.4,315.7 403.6,314.8 402.3,311.7 402.1,311.9 402.8,314.2 404,316.3 405.4,319.6 406.1,320.7 406.7,321.9 408.3,324.1 408,324.5 408,325.8 410.2,327.6 410.5,328 411.1,330 410.7,330.3 411,332.4 411.7,334.7 412.4,335.2 413.4,335.9 414.5,338.2 415,340 416,340.9 418.6,342.7 419.6,343.8 420.6,344.9 421.2,345.6 422.1,346.2 422.5,346.8 422.5,347.6 421.4,348 422.2,348.5 422.8,348.9 423.2,349.7 424,350.4 424.9,350.5 426.7,350 428.7,349.7 430.4,349.2 431.3,349 432,348.7 433,348.6 433.6,348.6 434.5,348.3 435.5,348.1 436.3,347.5 437,347.5 437.1,348 436.9,349.1 436.9,350.1 436.5,350.8 436,352.8 435.1,354.9 434,357.3 432.4,360 430.8,362.1 428.6,364.7 426.7,366.2 423.9,368 422.2,369.5 420.2,371.7 419.7,372.7 419.3,373.1 418,373.9 417.6,374.7 416.8,374.8 416.6,376.1 416,376.9 415.6,378.1 414.9,378.7 414,381 414.1,382.1 415.3,382.8 415.4,383.2 414.9,384.4 415,385 414.9,385.9 415.5,387 416.3,388.9 417,389.3 417.3,390.2 417.2,392 417.4,393.7 417.5,396.7 417.8,397.6 417.3,399 416.5,400.4 415.3,401.6 413.6,402.3 411.5,403.3 409.4,405.4 408.7,405.7 407.4,407.1 406.7,407.6 406.5,409 407.4,410.5 407.7,411.7 407.8,412.3 408.1,412.2 408,414.1 407.7,415.1 408.2,415.4 407.9,416.3 407.1,417 405.6,417.7 403.4,418.8 402.5,419.6 402.7,420.5 403.2,420.6 403,421.7 402.6,423.2 402.3,425 401.8,425.9 400.6,427 400.2,427.3 399.4,428.4 398.9,429.5 397.9,431 395.8,433.3 394.4,434.6 393,435.6 391.1,436.5 390.1,436.6 389.9,437.2 388.8,436.9 387.9,437.3 385.8,436.9 384.7,437.2 383.9,437 382,437.9 380.4,438.3 379.3,439.2 378.4,439.2 377.6,438.4 377,438.4 376.2,437.4 376.1,437.7 375.9,437.1 375.9,435.8 375.3,434.3 375.9,433.9 375.8,432.2 374.6,430.2 373.7,428.3 372.3,425.5 371,423.9 370.2,422.4 369.8,420.4 369.4,418.9 368.7,415.7 368.7,413.3 368.5,412.2 367.7,411.4 366.8,409.7 365.8,407.4 365.4,406.1 363.9,404.2 363.7,402.7 363.6,401.5 363.8,399.8 364.5,398 364.6,397.2 365.2,395.5 365.6,394.7 366.7,393.4 367.3,392.6 367.5,391.2 367.4,390.1 366.8,389.4 366.3,388.3 365.9,387.1 366,386.7 366.6,386 366,384.2 365.6,382.9 364.7,381.7 364.8,381.4 364.6,380.8 364.1,379.4 362.6,377.4 360.7,375.5 359.4,374 358.3,372.1 358.4,371.5 358.8,370.9 359.2,369.5 359.6,368.1 359.2,367.8 359.9,365.8 360.2,364.3 359.4,363.1 358.6,362.7 358.2,361.9 357.7,361.6 357.7,361.1 355.8,361.8 355.1,361.7 354.4,362.1 352.9,362.1 351.9,360.9 351.3,359.5 350,358.3 348.6,358.3 346.9,358.3 345.4,358.6 343.9,358.9 341,360 339.9,360.7 338.3,361.2 336.6,360.7 335.8,360.7 334.5,360.3 333.3,360.4 331.1,360.7 329.8,361.2 327.9,361.9 327.6,361.9 327.1,361.9 325.2,361 323.5,359.6 321.9,358.6 320.6,357.3 320.1,357.2 318.8,356.5 317.8,355.4 317.5,354.8 317.3,353.4 316.4,352.3 315.7,351.5 315.2,351.3 314.8,350.9 314.6,350 314.3,349.6 313.8,349.3 312.8,348.5 312,348.4 311.6,347.9 311.6,347.6 311,347.2 310.9,346.8 310.6,345.3 310.8,344.5 310,343 309.1,342.3 309.9,341.9 310.8,340.6 311.3,339.6 311.1,338.5 311.6,337.6 311.9,335.7 311.7,333.8 311.4,332.8 311.6,331.8 311.1,330.9 310.2,330 310.2,329.2 310.3,328.2 311,327.7 311.7,326.6 311.5,326 312.2,324.5 313.2,323.2 313.8,322.9 314.3,321.7 314.4,320.6 315,319.3 316.3,318.6 317.5,316.4 318.4,315.6 320.2,315.4 321.6,313.9 322.6,313.3 324.1,311.6 323.7,308.9 324.4,307 324.6,305.8 325.8,304.3 327.7,303.3 329.1,302.4 330.3,300Z"/>
<path class="c0" d="M434.1,393.4 434.6,394.2 435.1,395.5 435.4,397.8 435.9,398.7 435.7,399.6 435.3,400.2 434.7,399 434.4,399.6 434.7,401 434.5,401.9 434,402.3 433.9,404 433.2,406.3 432.3,409 431.1,412.8 430.4,415.6 429.6,418 428.1,418.5 426.4,419.3 425.4,418.8 423.9,418.1 423.4,417 423.3,415.2 422.6,413.6 422.4,412.1 422.7,410.7 423.6,410.3 423.6,409.7 424.5,408.1 424.7,406.9 424.2,406 423.9,404.7 423.7,402.9 424.4,401.8 424.6,400.6 425.6,400.5 426.6,400.1 427.3,399.8 428.1,399.7 429.2,398.6 430.7,397.5 431.3,396.5 431,395.7 431.8,395.9 432.8,394.6 432.9,393.4 433.5,392.6Z"/>
<path class="bd" d="M337.9,300 338.6,301.4 338.7,302.8 339.3,305.2 339.8,305.6 339.5,306.5 337,306.9 336.2,307.7 335.1,307.9 335,309.5 332.9,310.3 332.2,311.4 330.6,312 328.8,312.3 325.8,313.9 325.8,316.4 325.8,316.9 332.8,322 339,326.4 345.3,330.8 345.8,331.7 346.9,332.3 347.8,332.6 347.8,333.9 349.9,333.7 352.5,332.8 357.9,328.9 364.3,325 367.2,325.9 368.2,327 369.6,326.3 371.4,325.2 378.9,329 386.3,332.8M325.8,316.4 317.5,316.4M325.8,316.9 325.7,320.1 319.6,320 319.7,325.2 318,325.4 317.5,326.5 317.9,329.4 310.6,329.4 310.2,330M332.8,322 329.9,322 330.8,330.7 331.7,339.2 332,339.4 331.6,340.8 324.1,340.8 323.9,341.3 323.1,341.1 322.1,341.5 320.8,341 320.2,341 319.9,342.1 319.3,342.5M364.3,325 363.4,323.8 362,322.8 361.1,323.2 360.4,322 360.4,321.2 359.3,319.7 360,318.8 359.8,317.5 360.1,316.3 359.9,315.4 360.3,313.6 360.2,312.7 359.6,310.8 358.8,306.9 357.6,306 357.6,305.4 356.1,304.1 355.9,302.4 357.1,301.2 357.5,299.3 357.2,297.1 357.6,295.9M359.6,310.8 360.5,310.3 360.6,309.3 360.4,308.4 361.7,307.6 362.3,306.9 363.2,306.3 363.3,304.6M388.7,308 388.1,309.1 388.4,310 387.9,311.3 388.4,313 388.4,328 388.4,332 386.3,332 386.3,332.8 386.4,340.6 384.8,340.4 383.9,341.9 383.4,343 383.8,343.5 383.2,344.1 383.4,344.9 382.9,345.7 382.8,346.4 383.4,346.3 383.8,347 383.8,348.1 384.5,348.7 384.5,349.1M388.4,328 410.5,328M369.6,326.3 370,329.4 370.7,329.9 370.7,330.5 371.5,331.2 371.1,332.1 370.4,336.1 370.3,338.6 367.9,340.4 367.1,343 367.9,343.7 367.9,344.9 369.1,345 368.9,345.9 368.4,346 368.3,346.6 368,346.6 366.7,344.5 366.3,344.4 364.8,345.5 363.4,345 362.4,344.8 361.8,345.1 360.7,345.1 359.6,345.9 358.7,345.9 356.4,344.9 355.6,345.4 354.6,345.4 353.9,344.7 352,343.9 350,344.2 349.6,344.6 349.3,345.7 348.8,346.5 348.6,348.1 347.2,347 346.6,347.1 345.9,347.6 346,346.3 343.8,345.9 343.8,344.9 342.7,343.7 342.5,342.8 342.6,341.9 343.8,341.8 344.5,341.1 347,341 348.7,340.7 348.8,339.5 349.9,338.2 349.9,333.7M319.3,342.5 319.4,343.7 319.7,344.8 320.4,345.3 320.6,346.1 320.5,346.7 320.9,347.3 321.4,347.1 321.7,347.2 322.2,347.7 323,347.8 323.5,347.4 324.1,347.1 324.6,346.9 324.9,346.9 325.3,347.3 325.6,347.9 326.3,348.7 325.9,349.1 325.9,349.8 326.3,349.6 326.5,349.8 326.4,350.4 327,350.9 327.2,350.7 327.7,351 329.2,351 329.5,350.5 329.8,350.5 330.4,350.3 330.7,351.1 331.1,350.9 331.9,350.6 331.7,349.5 332.2,348.7 332.2,348.1 333.7,346.5 334,345.2 334.5,344.7 335.4,344.9 336.1,344.6 336.4,344.1 337.8,343.2 338.2,342.6 339.9,341.8 340.9,341.5 341.4,341.9 342.6,341.9M311.3,339.6 312.8,339.1 314.8,338.7 315.7,339.2 316.9,339.7 318,341.2 319.3,342.5M310.8,344.5 312.8,344.4 313.3,343.9 313.8,343.9 314.6,344.4 315.2,344.4 315.8,344.1 316.2,344.6 315.3,345.1 314.5,345 313.7,344.6 313,345.1 312.7,345.1 312.3,345.3 310.6,345.3M310.9,346.8 311.9,346.5 312.5,346.5 313,346.3 316.4,346.4 317.3,346.4 318.7,346.9 319.1,346.8 319.2,346.6 320.2,346.8 320.5,346.7M316.4,346.4 316.4,347 316.2,347.2 316.3,347.9 316,348.1 315.6,348.1 315.2,348.4 314.6,348.4 313.8,349.3M317.3,353.4 318.3,352.5 318.5,352 318.8,351.6 319.3,351.6 319.7,351.2 321.2,351.2 321.7,351.9 322.2,352.7 322.1,353.2 322.4,353.7 322.4,354.4 322.9,354.3 322,355.2 321.2,356.2 321.1,356.7 320.6,357.3M322.9,354.3 323.8,354 324.5,355.2 324.4,355.9 324.8,356.4 325.3,356.4 325.7,355.6 326.2,355.6 326.1,356.2 326.3,357.1 325.9,357.9 326.4,358.5 327,358.6 327.8,359.4 327.9,360.1 327.7,360.3 327.6,361.9M326.2,355.6 326.5,355.6 326.6,354.8 326.5,354.5 326.7,354.2 327.3,354 326.9,352.5 326.4,351.7 326.6,351 327,350.9M336.6,360.7 335.9,358.3 336.4,356.2 337.2,354.6 336.6,352 336.4,350.5 336.4,349.5 339.7,349.4 340.5,349.5 341.1,349.2 342,349.4 341.8,349.9 342.6,350.9 342.6,352.3 342.8,353.8 343.2,354.5 342.8,356.2 343,357.1 343.5,358.3 343.9,358.9M336.6,352 335.4,351.5 334.5,351.6 333.9,352 333,351.6 332.7,351 331.9,350.6M345.4,358.6 344.9,357.3 345,352.9 344.6,352.6 344.6,351.6 343.9,351 343.3,350.4 343.6,349.4 342,349.4M343.6,349.4 344.2,349.2 344.6,348.4 345.5,348.2 345.9,347.6M346.9,358.3 347,355.3 347,354.1 347.3,352.9 347.9,352.4 348.8,351.2 348.6,350.7 349,349.9 348.6,348.8 348.6,348.1M368.3,346.6 369.1,347.3 368.8,347.7 368.8,348.3 367.2,349.8 366.7,351 366.4,352 366,352.4 365.6,353.7 364.7,354.5 364.4,355.4 364,356.2 363.8,357 362.5,357.6 361.5,356.8 360.8,356.9 359.6,358 359.1,358 358.2,359.8 357.7,361.1M368.9,345.9 369.6,347.1 369.8,348.3 369.7,349.6 370.7,351.3 369.7,351.3 369.1,351.4 368.3,351.3 367.9,352.1 369,353.2 369.8,353.6 370.1,354.3 370.7,355.6 370.4,356.2 369.4,358 369,358.4 368.8,359.8 369,360.6 368.9,361.2 369.7,362.2 369.9,362.8 370.6,363.8 371.4,364.4 371.5,365.2 371.7,365.8 371.6,366.8 370.1,366.4 368.6,365.8 366.3,365.8 366,365.7 364.9,365.9 363.8,365.7 362.9,365.8 359.9,365.8M384.5,349.1 383.3,349.5 382.3,350.2 381,352.3 379.3,353.2 377.4,353 376.9,353.2 377.1,353.9 376.1,354.5 375.3,355.3 373,356 372.6,355.6 372.2,355.5 371.9,356 370.4,356.2M362.9,365.8 362.9,368 360.2,368 359.6,368.1M366.3,365.8 366.1,366.6 366.6,367.6 368,367.4 368.5,367.8 367.7,369.9 368.6,371 368.8,372.5 368.5,373.7 368,374.6 366.3,374.5 365.3,373.6 365.2,374.4 363.9,374.7 363.3,375.2 364,376.4 362.6,377.4M371.7,365.8 372.7,364 373.8,363.1 375.1,363.4 376.3,363.5 376.1,364.6 375.6,365.6 375.2,366.8 375,368.4 375.1,369.5 374.8,370.1 374.7,370.8 374.5,371.4 373.3,372.3 372.5,373.2 371.6,375 371.7,376.6 371.2,377.2 370.2,378.1 369.1,379.3 368.4,378.9 368.2,378.4 367.2,378.4 366.6,379.1 366.1,378.9 365.4,378.3 364.8,378.6 364.1,379.4M364.6,380.8 365.1,380.6 365.1,379.8 365.4,379.3 366.1,378.9M376.3,363.5 376.4,362.2 377.1,361.2 378.2,360.6 379.7,361.3 380.9,362 382.2,362.1 383.6,362.5 384.2,361.4 384.4,361.2 385.3,361.4 387.3,360.5 388.1,360.9 388.7,360.8 389,360.4 389.7,360.2 391.1,360.4 392.2,360.4 392.9,360.3M384.5,349.1 384.7,349.9 385.7,351.1 385.8,351.9 385.4,352.7 385.6,353.3 386.2,353.8 387.6,354.6 388.7,355.4 388.7,356 389.9,357 390.7,357.8 391.2,358.9 392.6,359.7 392.9,360.3M386.4,353.9 386.9,353.7 387.6,353.3 388.1,351.7 388.6,350.8 389.9,350.5 390.2,351 391.2,352.1 391.7,352.3 392.4,352 393.7,352 394,352.4 395.8,352.4 395.9,352 396.9,351.7 397,351.1 397.8,350.7 399.3,351.8 400.3,351.7 401.2,350.3 402.2,349.2 402.1,348.1 401.6,347.6 402.7,347.5 402.9,347 403.7,347.2 403.5,348.6 403.7,349.9 404.7,350.7 404.9,351.3 404.9,352.3 405.1,352.3 405.1,353.8M413.4,335.9 412.5,337 411.1,337.4 410.5,338 410.3,339.3 409.5,342.1 409.7,342.9 409.4,344.5 408.7,346.4 407.5,347.3 406.7,348.8 406.6,349.6 405.7,350.1 405.1,352.1 405.1,353.8M409.7,342.9 411.9,343.3 412.5,341.8 413.6,342.7 414.7,342.3 415.1,342.7 416.4,342.7 418,343.4 418.5,344.1 419.3,344.7 420.1,345.8 420.7,346.5 421.5,346.6 422.1,346.2M420.7,346.5 420.1,347.3 419.5,348.2 419.6,348.7 419.6,349.3 420.7,349.3 421.1,349.2 421.5,349.5 421.1,350.2 421.8,351.3 422.5,352.2 423.2,352.8 429.3,355.1 430.9,355.1 425.6,360.7 423.2,360.8 421.5,362.1 420.3,362.1 419.8,362.7M421.5,349.5 422.2,348.5M405.1,353.8 404.9,354.3 403.9,354.4 403.2,355.5 404.4,355.6 405.3,356.5 405.7,357.3 406.5,357.7 407.6,359.7 406.4,361 405.2,362.1 404.1,362.9 402.8,362.9 401.3,363.4 400.1,363 399.3,363.5 397.7,362.2 397.2,361.4 396.2,361.8 395.3,361.7 394.8,362 394,361.8 392.9,360.3M407.6,359.7 408.6,360 408.6,361.1 409.2,361.7 410.5,361.7 412.9,363.3 413.5,363.3 413.9,363.3 414.3,363.5 415.5,363.6 416.1,362.8 417.8,362.1 418.5,362.7 419.8,362.7 418.2,364.8 418.2,371.6 419.3,373.1M405.2,362.1 406.1,363.4 406.3,364.3 407.1,366.4 406.4,367.8 405.5,369 405,369.8 405,371.8 412.1,375.8 412.2,376.9 414.9,378.7M399.3,363.5 399.2,365.6 399.9,365.9 399.3,366.6 398.6,367.1 397.9,368 397.5,368.9 397.4,370.4 397,371.1 397,372.5 397.4,372.7 398.5,372.1 399.2,371.9 401.2,371.9 405,371.8M397,372.5 396.4,373 396.4,374.1 396.1,374.3 395.9,375.3 396.4,376.1 396.5,378.4 396.9,380.1 396.7,381.1 397,382.2 398.1,383.2 399.1,385.6M398.5,372.1 399.3,373.2 399.2,374.3 398.6,374.5 397.6,374.4 397.1,375.4 395.9,375.3M398.6,374.5 398.7,375.2 399.1,375.6 399.1,376.3 398.7,376.6 398,377.6 397.3,378.3 396.5,378.4M399.1,385.6 399.9,386 400.7,386.4 401.8,386.7 402.9,387.3 403.8,388.1 404.2,389.7 403.9,390.2 403.5,391.8 403.9,393.3 403.3,394 402.8,395.8 403.7,396.3 398.1,397.9 398.3,399.2 396.9,399.5 395.8,400.3 395.6,400.9 394.9,401.1 393.3,402.7 392.2,403.9 391.6,404 391,403.8 388.9,403.6 388.6,403.4 388.6,403.2 387.9,402.8 386.6,402.7 385.1,403.1 383.9,401.9 382.7,400.3 382.7,394.2 386.6,394.2 386.5,393.6 386.7,392.9 386.4,392 386.6,391.1 386.4,390.5 387.1,390.5 387.2,391.1 388,391.1 389.2,391.2 389.8,392.1 391.3,392.3 392.5,391.8 392.9,392.7 394.3,393 395,393.8 395.8,394.9 397.2,394.9 397,392.8 396.5,393.2 395.2,392.4 394.7,392.1 395,390.2 395.3,388 394.9,387.1 395.4,385.9 395.9,385.7 398.4,385.4 399.1,385.6M402.9,387.3 404.7,387.6 405.1,388.1 405.7,389 406.2,391.6 405.7,393 406.2,395.5 406.9,395.5 407.6,396.1 408.3,397.5 408.5,400 407.7,400.4 407.1,401.7 405.9,400.5 405.8,399.2 406.2,398.3 406.1,397.5 405.3,397 404.8,397.2 403.7,396.3M406.2,391.6 407.6,391.4 409.9,392 410.4,391.7 411.7,391.7 412.3,391.1 413.4,391.2 415.5,390.4 417,389.3M398.3,399.2 398.4,399.9 399.9,399.9 400.8,400.3 401.2,400.8 402.1,400.9 403.1,401.6 403.1,404 402.7,405.4 402.6,406.9 402.9,407.5 402.7,408.6 402.4,408.8 401.9,410.2 400,412.5 400.9,415.3 401.3,416.8 401,419.1 401.2,419.8 400.2,419.4 399.7,419.6 399.5,420.2 399,421 399,421.7 400.1,422.8 401.2,422.6 401.6,421.7 403,421.7M388.9,403.6 389.7,405.1 390,405.5 390.6,406.6 392.7,408.8 393.5,409 393.5,409.7 394.1,411 395.5,411.3 396.7,412.2 400,412.5M396.7,412.2 394.1,413.7 392.4,415.2 391.8,416.5 391.2,417.3 390.2,417.5 389.9,418.4 389.7,419.1 388.5,419.6 387,419.5 386.1,418.9 385.3,418.6 384.4,419.1 383.9,420.1 383.1,420.7 382.1,421.7 380.8,421.9 380.4,421.1 380.6,419.9 379.5,417.9 379.1,417.6M372.3,425.5 374,425.1 374.3,426 375.1,426.1 376.3,426.5 377.3,426.4 378.9,425.3 379,417.6 379.1,417.6 379,411.7 380.8,411.6 380.8,404.6 382.2,404.5 385.1,403.8 385.8,404.6 387,403.9 387.6,403.9 388.6,403.4M363.7,402.7 364.7,402.3 365.8,402 367,402.1 368.1,402.9 368.4,402.8 375.9,402.7 377.2,403.7 381.7,403.9 385.1,403.1M364.8,381.4 365.6,381.1 366.1,381.2 366.8,380.9 372.3,381 372.8,382.3 373.3,383.5 373.7,384.1 374.4,385.1 375.7,384.9 376.3,384.7 377.3,384.9 377.6,384.4 378.1,383.4 379.2,383.3 379.3,382.9 380.3,382.9 380.1,383.6 382.4,383.6 382.4,384.8 382.8,385.5 382.5,386.7 382.6,387.8 383.3,388.5 383.2,390.8 383.6,390.6 384.4,390.6 385.6,390.4 386.4,390.5M395.9,426.4 396.5,427 395.9,428 395.6,428.7 394.6,429.1 394.2,429.8 393.6,430 392.2,428.3 393.2,427 394.2,426.1 395,425.7 395.9,426.4M401.2,419.8 401.5,420.7 401.6,421.7"/>
<path class="c0" d="M399.8,187.3 401.7,185.4 404.8,188.7 409.9,189.9 416.9,195.7 418.3,198 418.5,201.2 416.4,203.6 413.3,204.9 405,201.3 403.7,201.9 406.7,205.3 406.8,207.4 406.9,211.9 409.3,213.2 410.8,214.3 411,212.3 409.9,210.4 411.1,208.7 415.6,211.4 417.2,210.4 415.9,207.1 420.3,202.6 422,202.9 423.7,204.5 424.8,201.3 423.3,198.5 424.2,195.6 422.8,192.5 428,194.1 429.1,196.9 426.7,197.4 426.7,200.1 428.2,201.8 431,200.8 431.5,197.7 435.4,195.3 441.9,191 443.3,191.2 441.5,194.3 443.8,194.8 445.1,193.1 448.6,193 451.4,190.9 453.5,193.9 455.6,190.6 453.6,187.5 454.6,185.7 460.1,187.4 462.7,189.1 469.4,194.9 470.7,192.2 468.8,190.8 468.7,189.5 466.5,187.9 467.1,185.3 466.1,181 466,179.2 469.5,173.9 470.7,168.3 472.1,167 477,168.7 477.4,172.2 475.6,177 476.8,178.8 477.4,182.8 477,190.1 479,193.3 478.2,196.6 474.6,203.4 476.7,204.1 477.4,202.4 479.5,201.2 480,198.9 481.6,196.5 480.5,193.7 481.4,190.3 479.3,189.9 478.9,186.9 480.4,181.5 478,176.8 481.3,172.8 480.9,168.4 481.8,168.3 482.8,171.7 482,177.4 484,178.5 483.2,174.3 486.3,171.9 490.2,171.5 493.6,175 491.9,169.9 491.8,163.1 495,161.8 499.5,162 503.5,161.1 502,157.6 504.2,152.9 506.3,152.8 509.9,149.1 514.8,148.1 515.4,146 520.3,145.3 521.9,147 526,142.8 529.5,143 530,139.5 531.7,135.9 536.1,132.4 539.3,135.3 536.8,137.3 541,138.6 541.5,142.6 543.2,140.7 548.7,140.7 552.8,144.6 554.3,147.5 553.9,151.4 551.8,153.6 546.9,157.5 545.5,159.5 547.8,160.5 550.6,162.2 552.3,160.9 553.2,165.1 554,163.5 557,162.4 563,163.5 563.4,166.5 571.2,167.5 571.3,162.5 575.3,163.7 578.3,163.6 581.2,167 582.1,171.1 581,173.6 583.4,178.3 586.3,180.6 588.1,174.5 591.1,177.1 594.2,175.5 597.8,177.3 599.2,175.7 602.2,176.5 600.9,170.9 603.4,168.3 620.2,172.3 621.7,175.8 626.6,180.3 634.1,179.2 637.8,180.1 639.4,182.5 639.2,186.4 641.5,187.9 644,186.9 647.2,186.7 650.8,187.8 654.3,187.2 657.5,191.8 659.8,190.2 658.3,186.8 659.2,184.4 665.1,185.9 669,185.6 674.3,188.2 676.9,190.5 676.9,209.4 674.5,211.4 672.1,211.1 673.8,213.3 674.9,216.8 675.8,217.9 676,219.6 675.5,220.7 672,219.8 666.8,222.8 665.2,223.3 662.3,226 659.6,228.3 658.9,230 656.3,227.4 651.4,230.3 650.6,229 648.8,230.6 646.3,230 645.7,232.5 643.5,235.9 643.5,237.4 645.6,238.1 645.4,243.1 643.7,243.2 642.9,246 643.7,247.4 640.4,249 639.7,252.6 637,253.4 636.4,256.5 633.7,259.3 633,257.2 632.2,252.8 631.2,245.7 632.1,241 633.7,239 633.8,237.4 636.7,236.6 640,232.1 643.2,228.3 646.5,225.2 648,219.7 645.8,220 644.7,223.3 639.9,227.5 638.4,222.8 633.6,224.1 629,230.4 630.5,232.7 626.3,233.7 623.5,234 623.6,231.4 620.7,230.8 618.4,232.6 612.7,232 606.6,233.1 600.5,239.9 593.4,247.8 596.3,248.2 597.3,250.2 599.1,250.9 600.3,249.3 602.3,249.5 605,253 605.1,255.6 603.6,258.6 603.4,262.1 602.6,266.6 599.8,270.7 599.2,272.5 596.6,275.6 594.1,278.6 592.9,280.2 590.5,281.7 589.3,281.7 588.1,280.5 585.6,282.3 585.3,283.2 585.1,282.7 585,281.4 586,281.4 586.3,278.3 585.8,276.1 587.4,275.2 589.6,275.6 590.9,273 591.5,270.1 592.2,269.1 593.2,266.6 590.1,267.4 588.5,268.5 585.7,268.5 585,265.9 582.8,263.8 579.5,262.9 578.8,260.1 578.2,258.3 577.5,257 576.3,253.9 574.7,252.8 571.9,251.8 569.4,251.9 567.1,252.5 565.6,254 566.6,254.7 566.6,256.4 565.6,257.4 563.9,260.5 563.9,261.8 561.3,263.6 559.1,262.5 556.9,262.8 555.9,261.8 554.8,261.5 552,263.5 549.6,264 547.9,264.7 545.5,264.3 543.8,264.3 542.7,262.8 540.9,261.4 539,261 536.6,261.4 534.9,262 532.2,260.7 531.9,258.5 529.7,257.7 528,257.4 525.9,256.2 524,259.3 524.7,261 522.9,263 520.2,262.3 518.4,262.2 517.1,260.8 515.2,260.8 513.6,259.9 510.7,261.3 507.2,263.7 505.2,264.2 504.5,264.5 503.5,262.7 501.1,263.1 500.3,261.9 499,261.3 498.1,259.6 497.1,259.1 494.4,259.9 491.9,258.1 490.9,259.7 486.7,252 484.4,249.5 485,248.6 480.4,251.5 478.6,251.7 478.7,250 476.3,248.9 474.4,249.7 473.8,246.4 470.5,245.6 468.8,247 464.1,248.2 463.2,249 456.3,250.1 455.4,251.2 456.8,253.3 455,254.1 455.3,254.9 453.5,256.4 456.5,258.5 456.1,259.9 453.5,259.8 452.9,260.6 450.5,259.1 447.6,259.2 445.6,260.4 443.4,259.2 439.3,257.1 436.4,257.2 432.6,260.4 432.3,262.6 430.4,260.9 428.9,264.1 429.5,264.7 428.4,266.8 430,268.7 431.4,268.6 432.5,270.4 432.4,271.8 433.3,272.3 432.5,273.9 430.7,274.3 428.8,277 430.5,279.5 430.3,281.2 432.3,284.2 431.2,285.2 430.9,285.8 430.1,285.7 428.8,284.1 428.3,284.1 427.1,283.5 426.5,282.5 424.8,281.9 423.7,282.3 423.4,281.8 420.8,280.6 418.1,280.2 416.5,279.8 416.3,280.1 413.9,277.9 411.8,276.9 410.2,275.4 411.5,275 413.1,272.7 412,271.6 414.8,270.5 414.7,269.9 413.1,270.4 413.1,269.1 414.1,268.4 415.9,268.2 416.2,267.3 415.7,265.7 416.5,264.2 416.5,263.4 413.7,262.4 412.7,262.5 411.5,261.1 410.1,261.6 407.7,260.5 407.8,260 407.1,258.7 405.6,258.5 405.5,257.6 405.9,257 404.7,255.3 402.8,255.6 402.2,255.4 401.8,256.1 401.1,256 400.6,254 400.2,253 400.5,252.7 402,252.8 402.8,252.2 402.2,251.3 401,250.8 401.1,250.2 400.3,249.6 399.2,247.5 399.6,246.7 399.4,245.1 397.6,244.3 396.6,244.7 396.3,243.9 394.4,243.1 393.8,241.1 393.6,239.4 392.7,238.6 393.5,237.5 393,234.2 394.3,232.1 394,231.5 396.1,229.4 394.2,227.7 398.1,222.7 399.9,220.4 400.6,218.4 397.8,215.6 398.6,212.8 396.9,209.6 398.2,205.7 396,200.5 397.7,196.8 394.9,193.5 395.1,189.9 396.6,189.4Z"/>
<path class="c0" d="M6.9,209.4 6.9,190.5 11.5,194.3 16.3,199.2 16.2,202.2 17.4,203.3 17,199.9 22.1,200.6 25.7,205 23.9,206.9 20.8,207.4 20.7,211.7 20,212.6 18.3,212.5 16.9,211 14.4,209.7 14,207.8 12.1,207 10,207.6 8.9,206 9.3,204.4 7.1,205.5 8,207.6Z"/>
<path class="c0" d="M468.8,138.9 470.1,142.1 468.8,144.6 462.2,148.3 456.5,151.9 450.8,158.6 448,165.2 445.1,171.2 445.4,176.2 449,180.9 447.9,181.5 441.8,180.7 441.3,178.2 438,176.6 437.7,173.4 439.6,172.1 439.5,168.8 443.2,163.2 441.5,162.4 446,156.4 445.5,153.2 449.6,149.3 455.8,144.4 462,142.9 465.1,139.9Z"/>
<path class="c0" d="M520.5,95.9 524.1,101.8 528.4,112.5 527.9,121.6 523.9,122.7 518.7,120 515.6,116.1 514.2,108.7 511.6,106.5 516.5,98.7Z"/>
<path class="c0" d="M537.5,127 527,130.5 530.4,118.2 531.9,117 533.3,117.7 538,123.2Z"/>
<path class="c0" d="M437.1,104.1 434.6,105.6 432.9,106.5 432.6,108.3 430.5,110.1 428.5,107.5 429.5,104 425.4,103.7 429,101.6 431.8,101.5 432.2,104.6 433.3,101.8 435.1,99.9 437.8,102.4Z"/>
<path class="c0" d="M600.3,145.3 605.2,145.6 612,149.7 610.5,155.1 603.6,154.9 600.5,156.5 596.8,151.9 597.8,146.7Z"/>
<path class="c0" d="M614.3,150.1 617.8,151.2 622.5,153.2 620.3,156 617.3,155.3 613.9,152.5Z"/>
<path class="c0" d="M606.3,161.7 609,164.2 609.2,166 606.4,166 602.6,165.2 602.2,164.9 604,162.3Z"/>
<path class="c0" d="M676.9,180.3 674.9,180.6 674.6,178.8 676.9,176.3 679.7,177 679.7,179.9Z"/>
<path class="c0" d="M6.9,176.3 7.1,176.1 8.7,176.1 11.4,177.8 11.3,178.6 9.3,180 6.9,180.3Z"/>
<path class="c0" d="M609.3,260 611.1,265.1 608.4,264.2 607.2,268.3 609.1,271.1 609,273 607.6,271.4 606.4,273.4 606,271.2 606.2,268.5 606,265.5 606.5,263.3 606.5,259.4 605.4,256.5 605.6,252.3 607.3,250.9 606.6,249.4 607.4,248.9 607.9,251.1 608.6,254 608.5,257Z"/>
<path class="c0" d="M432.9,187.6 435.3,189.2 433.7,191.3 432,190.3Z"/>
<path class="c0" d="M433.3,272.3 432.4,271.8 432.5,270.4 431.4,268.6 430,268.7 428.4,266.8 429.5,264.7 428.9,264.1 430.4,260.9 432.3,262.6 432.6,260.4 436.4,257.2 439.3,257.1 443.4,259.2 445.6,260.4 447.6,259.2 450.5,259.1 452.9,260.6 453.5,259.8 456.1,259.9 456.5,258.5 453.5,256.4 455.3,254.9 455,254.1 456.8,253.3 455.4,251.2 456.3,250.1 463.2,249 464.1,248.2 468.8,247 470.5,245.6 473.8,246.4 474.4,249.7 476.3,248.9 478.7,250 478.6,251.7 480.4,251.5 485,248.6 484.4,249.5 486.7,252 490.9,259.7 491.9,258.1 494.4,259.9 497.1,259.1 498.1,259.6 499,261.3 500.3,261.9 501.1,263.1 503.5,262.7 504.5,264.5 505.2,264.2 507.2,263.7 510.7,261.3 513.6,259.9 515.2,260.8 517.1,260.8 518.4,262.2 520.2,262.3 522.9,263 524.7,261 524,259.3 525.9,256.2 528,257.4 529.7,257.7 531.9,258.5 532.2,260.7 534.9,262 536.6,261.4 539,261 540.9,261.4 542.7,262.8 543.8,264.3 545.5,264.3 547.9,264.7 549.6,264 552,263.5 554.8,261.5 555.9,261.8 556.9,262.8 559.1,262.5 561.3,263.6 563.9,261.8 563.9,260.5 565.6,257.4 566.6,256.4 566.6,254.7 565.6,254 567.1,252.5 569.4,251.9 571.9,251.8 574.7,252.8 576.3,253.9 577.5,257 578.2,258.3 578.8,260.1 579.5,262.9 582.8,263.8 585,265.9 585.7,268.5 588.5,268.5 590.1,267.4 593.2,266.6 592.2,269.1 591.5,270.1 590.9,273 589.6,275.6 587.4,275.2 585.8,276.1 586.3,278.3 586,281.4 585,281.4 585.1,282.7 585.3,283.2 584.6,283 583.8,283.9 583.3,284.7 583.3,286.5 582.4,287 582,287.4 581.3,288.2 580.1,288.6 579.3,289.2 579.2,290.3 579,290.6 579.7,290.9 580.8,292 582.4,294.8 582.9,296.3 582.9,298.9 582.2,300.2 580.5,300.6 579,301.6 577.3,301.8 577.1,300.5 577.5,298.8 576.7,296.4 578,296 576.7,294 575.9,293.6 575.1,294.2 575,293.8 574.5,293.6 574,293.2 574.5,292.1 575,291.8 574.8,291.4 575.3,290.1 575.2,289.7 574.1,289.5 573.2,288.8 570.6,289.5 569.2,290.6 567.2,291.3 568.2,290.2 567.8,289.2 569.3,287.6 568.3,286.3 566.7,287.2 564.6,288.9 563.4,290.5 561.6,290.6 560.7,291.7 561.6,293.3 563.2,293.7 563.2,294.7 564.7,295.4 566.8,293.7 568.4,294.7 569.7,294.7 570,295.9 567.3,296.6 566.5,297.8 564.6,299 563.7,300.6 565.7,301.8 566.4,304 567.5,306.1 568.8,307.8 568.8,309.4 567.6,310 568.1,311.1 569.1,311.8 568.9,313.5 568.4,315.2 567.4,315.4 566,317.7 564.5,320.4 562.8,322.8 560.2,324.7 557.6,326.4 555.5,326.7 554.4,327.6 553.7,326.9 552.7,327.9 550.1,328.9 548.1,329.2 547.5,331.3 546.4,331.4 546,330 546.4,329.2 543.9,328.6 543,328.9 540.5,330.6 539,332.5 538.6,333.9 540,335.9 541.7,338.5 543.4,339.7 544.6,341.2 545.4,344.8 545.2,348.1 543.6,349.4 541.5,350.6 540,352.2 537.6,353.9 537,352.7 537.5,351.4 536.1,350.4 534.6,350.1 533.8,349.1 532.8,347.1 531.2,346.3 529.6,346.3 529.9,344.8 528.2,344.8 528.1,346.9 527.1,349.7 526.5,351.4 526.6,352.7 527.8,352.8 528.6,354.5 528.9,356.1 529.9,357.2 531.1,357.4 532,358.4 532.4,358.6 533.5,359.7 534.3,360.9 534.4,362.2 534.2,363.1 534.4,363.7 534.6,364.8 535.2,365.3 535.9,367 535.9,367.6 534.6,367.7 532.8,366.3 530.6,364.9 530.4,363.9 529.3,362.7 529.1,361.1 528.4,360.1 528.6,358.7 528.2,358 527.5,357.2 527.1,356.3 526.2,355.2 525.2,354.3 524.9,355.5 524.6,354.4 524.8,353.2 525.3,351.4 525.2,350 525.7,348.6 525.1,347.4 525.3,345.4 524.5,344.4 523.9,342.1 523.6,339.6 522.8,338 521.5,339 519.4,340.4 518.4,340.2 517.2,339.7 517.9,337.3 517.5,335.5 516,333.2 516.2,332.5 515.2,332.3 513.8,330.7 513.3,329.6 513.2,328.6 512.8,327.6 512.1,326.5 510.4,326.4 510.5,327.2 509.9,328.3 509.1,327.9 508.9,328.3 508.3,328.1 507.6,327.9 507.4,328.6 506.1,328.6 503.8,329 503.9,330.5 502.9,331.7 500.2,333 498.1,335.3 496.7,336.6 494.9,337.8 494.9,338.7 494,339.2 492.3,339.9 491.4,340 490.9,341.5 491.2,344 491.4,345.6 490.6,347.4 490.6,350.6 489.6,350.7 488.7,352.1 489.3,352.8 487.6,353.3 487,354.6 486.2,355.1 484.5,353.4 483.6,350.7 482.9,348.8 482.3,347.9 481.2,346.1 480.8,343.7 480.5,342.5 478.8,339.8 478,336.1 477.4,333.6 477.4,331.2 477.1,329.3 474.4,330.5 473.1,330.2 470.6,327.8 471.5,327.1 471,326.3 468.8,324.6 467.4,324.1 466.9,322.6 465.4,321 462,321.4 459,321.5 456.4,321.8 452.9,321.1 450.9,320.7 448.7,320.4 447.9,317.8 447.1,317.5 445.6,317.9 443.8,318.9 441.5,318.2 439.6,316.6 437.8,316 436.6,314 435.2,311.1 434.2,311.4 433,310.7 432.3,311.6 431.2,311.5 431.6,312.4 431.4,312.9 432,314.5 432.8,316.3 433.7,316.8 434,317.5 435.3,318.4 435.4,319.3 435.2,320 435.4,320.7 436,321.2 436.2,321.9 436.5,322.4 436.4,320.9 436.9,319.8 437.4,319.6 437.9,320.3 438,321.5 437.6,322.7 437.9,323.5 438.3,323.4 438.3,323.9 439.8,323.6 441.3,323.7 442.4,323.7 443.7,322.3 445.1,321 446.3,319.7 446.6,320.5 446.9,322.1 447.7,323.5 448.7,324.2 450.1,324.5 451.2,324.8 452.1,326 452.6,326.7 453.2,326.9 453.2,327.4 452.5,328.6 452.2,329.2 451.5,329.8 450.8,331.1 449.9,331 449.5,331.5 449.3,332.5 449.5,333.8 449.3,334.1 448.4,334.1 447.3,334.8 447.1,335.8 446.7,336.2 445.5,336.2 444.8,336.7 444.8,337.4 443.9,338 442.9,337.8 441.6,338.4 440.8,338.6 439.4,339.1 439.1,339.9 439,340.6 437.2,341.4 434.2,342.3 432.5,343.7 431.7,343.8 431.1,343.7 430,344.5 428.9,344.8 427.3,344.9 426.8,345 426.4,345.5 425.9,345.7 425.7,346.2 424.7,346.1 424.1,346.4 422.8,346.3 422.4,345.2 422.4,344.1 422.1,343.6 421.7,342.1 421.2,341.4 421.6,341.3 421.4,340.4 421.6,340 421.5,339.1 421.3,338.3 420.7,337.7 420.6,337 419.6,336.3 418.6,334.6 418.1,333 416.8,331.7 416,331.3 414.8,329.4 414.5,328 414.6,326.8 413.6,324.6 412.7,323.8 411.7,323.4 411.1,322.2 411.2,321.8 410.7,320.7 410.1,320.2 409.4,318.7 408.2,317 407.3,315.6 406.4,315.6 406.7,314.4 406.7,313.6 407,312.8 406.9,312.5 405.7,308.8 406.2,308.1 406.1,307.9 406.6,306.9 407,305.2 407.2,304.7 407.3,304.7 408,302.8 408.9,301.3 408.9,301.2 408.8,299.4 409.2,298.5 409.7,298 410.2,297.5 410.3,296.2 410.9,296.7 413,296 413.9,296.5 415.5,296.4 417.6,295.6 418.6,295.6 420.7,295.2 421.5,294.9 423.7,295.2 424.3,295.8 425.2,295.4 424.2,293.5 424.6,292.8 424,290 425.3,289.3 424.6,288.6 423.2,288 423.3,286.8 423,286 421.2,284.8 419.2,284.9 419.5,283.8 419.1,282.1 418,281.2 417,280.9 416.3,280.1 416.5,279.8 418.1,280.2 420.8,280.6 423.4,281.8 423.7,282.3 424.8,281.9 426.5,282.5 427.1,283.5 428.3,284.1 428.8,284.1 430.1,285.7 430.9,285.8 431.2,285.2 432.3,284.2 433.3,285.5 434.3,287.3 435.1,287.4 435.7,288 434.2,288.2 433.9,290.1 433.5,290.9 432.9,292.7 433.5,294.4 435.3,294.9 436.5,296.1 439.2,296.5 442.1,295.8 442.3,295.3 441.9,293.6 442.2,291.2 440.7,290.4 441.2,288.7 440,288.6 440.4,286.5 442.2,287.1 442.4,284.8 441.9,283.4 440.4,284 439.6,284.3 439.5,283.6 440,282.6 439.6,281.7 437.5,280.9 436.6,278.5 435.6,277.9 435.6,277 437.4,277.3 437.4,275.4 439,274.9 440.6,275.3 441,272.7 440.6,271.1 438.8,271.2 437.2,270.5 435,271.7 433.3,272.3Z"/>
<path class="c1" d="M573.2,288.8 570.6,289.5 569.2,290.6 567.2,291.3 568.2,290.2 567.8,289.2 569.3,287.6 568.3,286.3 566.7,287.2 564.6,288.9 563.4,290.5 561.6,290.6 560.7,291.7 561.6,293.3 563.2,293.7 563.2,294.7 564.7,295.4 566.8,293.7 568.4,294.7 569.7,294.7 570,295.9 567.3,296.6 566.5,297.8 564.6,299 563.7,300.6 565.7,301.8 566.4,304 567.5,306.1 568.8,307.8 568.8,309.4 567.6,310 568.1,311.1 569.1,311.8 568.9,313.5 568.4,315.2 567.4,315.4 566,317.7 564.5,320.4 562.8,322.8 560.2,324.7 557.6,326.4 555.5,326.7 554.4,327.6 553.7,326.9 552.7,327.9 550.1,328.9 548.1,329.2 547.5,331.3 546.4,331.4 546,330 546.4,329.2 543.9,328.6 543,328.9 540.3,327.6 540.6,326.4 538.8,326 538,325.3 536.4,326.4 534.6,326.6 533.1,326.6 532.1,327.1 531.1,327.4 531.4,329.7 530.4,329.6 530.2,329.1 530.2,328.3 528.8,328.9 528,328.5 526.6,327.8 527.2,326.1 526,325.7 525.5,323.8 523.6,324.2 523.8,321.8 525.6,320 525.6,318.3 525.6,316.7 524.8,316.2 524.1,315 523.1,315.1 521.1,314.8 521.7,313.9 520.8,312.6 519.5,313.5 517.9,313 515.8,314.3 514.1,315.9 512.6,316.2 511.8,315.6 510.8,315.6 509.5,315 508.5,315.6 507.2,317.1 507.1,315.5 505.9,315.9 503.7,315.7 501.6,315.3 500.1,314.3 498.7,313.9 498.1,312.9 497,312.6 495.1,311.2 493.7,310.5 492.9,311 490.3,309.5 488.5,308.1 487.9,305.7 489.3,306 489.3,304.9 488.6,303.7 488.8,301.9 486.8,299.3 483.7,298.3 483.2,296.5 481.8,295.5 481.5,294.8 481.2,293.5 481.2,292.5 480.1,292 479.5,292.2 479,290 479.6,289.5 479.3,288.9 481.1,287.7 482.4,287.3 484.4,287.6 485,286 487.4,285.7 488.1,284.8 491,283.4 491.3,282.8 491.1,281.4 492.4,280.7 490.8,276.2 494.4,275.2 495.4,274.6 496.7,269.7 500.4,270.7 501.5,269.4 501.6,266.6 503.1,266.4 504.5,264.5 505.2,264.2 505.7,266.2 507.3,267.7 509.9,268.8 511.2,271 510.5,274.1 511.2,275.2 513.4,275.7 515.9,276.1 518.2,277.7 519.3,278 520.1,280.4 521.2,281.9 523.3,281.8 527.1,282.4 529.6,282 531.4,282.4 534.2,283.9 536.4,283.9 537.3,284.7 539.4,283.4 542.4,282.5 545.2,282.4 547.4,281.5 548.8,280.1 550.1,279.3 549.8,278.4 549.2,277.4 550.1,275.7 551.2,276 553.1,276.5 554.9,275.1 557.8,274.1 559.2,272.3 560.5,271.5 563.2,271.2 564.6,271.5 564.8,270.5 563.2,268.6 561.6,267.7 560.2,268.7 558.4,268.3 557.3,268.6 556.9,267.5 558.2,264.7 559.1,262.5 561.3,263.6 563.9,261.8 563.9,260.5 565.6,257.4 566.6,256.4 566.6,254.7 565.6,254 567.1,252.5 569.4,251.9 571.9,251.8 574.7,252.8 576.3,253.9 577.5,257 578.2,258.3 578.8,260.1 579.5,262.9 582.8,263.8 585,265.9 585.7,268.5 588.5,268.5 590.1,267.4 593.2,266.6 592.2,269.1 591.5,270.1 590.9,273 589.6,275.6 587.4,275.2 585.8,276.1 586.3,278.3 586,281.4 585,281.4 585.1,282.7 583.9,281.2 583.1,282.7 580.2,283.7 580.5,285 578.9,285 578,284.2 576.8,285.9 574.7,287.3 573.2,288.8ZM547.3,334.6 545.7,335.5 544.2,334.9 544.1,333.2 545,332.4 547,331.8 548.1,331.8 548.5,332.6 547.7,333.5Z"/>
<path class="c1" d="M568.6,323.2 567.5,326.4 566.7,328.1 565.7,326.4 565.5,324.9 566.5,322.9 568.1,321.3 568.9,321.9Z"/>
<path class="c1" d="M468.8,324.6 470,323.2 474.1,323.2 473.8,321.5 472.7,320.4 472.5,318.8 471.3,317.9 473.4,315.7 475.5,315.9 477.4,313.6 478.6,311.5 480.4,309.3 480.4,307.8 482,306.5 480.5,305.4 479.8,303.9 479.2,301.9 480.1,300.9 482.9,301.5 485,301.2 486.8,299.3 488.8,301.9 488.6,303.7 489.3,304.9 489.3,306 487.9,305.7 488.5,308.1 490.3,309.5 492.9,311 491.7,312 491,314 492.8,314.8 494.5,315.8 497,317 499.5,317.3 500.6,318.3 502,318.5 504.3,319 505.8,319 506,318.2 505.8,316.8 505.9,315.9 507.1,315.5 507.2,317.1 507.3,317.6 508.9,318.4 510.1,318 511.7,318.2 513.2,318.1 513.3,316.8 512.6,316.2 514.1,315.9 515.8,314.3 517.9,313 519.5,313.5 520.8,312.6 521.7,313.9 521.1,314.8 523.1,315.1 523.2,315.9 522.5,316.3 522.7,317.6 521.4,317.2 519,318.7 519,319.9 518,321.6 517.9,322.6 517.1,324.3 515.6,323.8 515.5,325.9 515.1,326.6 515.3,327.4 514.4,327.9 513.4,324.7 512.9,324.7 512.6,326 511.6,325 512.2,323.8 513,323.7 513.9,322 512.8,321.6 511,321.7 509.3,321.4 509.1,319.9 508.2,319.8 506.7,318.9 506.1,320.3 507.4,321.4 506.3,322.2 505.9,322.9 507,323.5 506.7,324.7 507.3,326.2 507.6,327.9 507.4,328.6 506.1,328.6 503.8,329 503.9,330.5 502.9,331.7 500.2,333 498.1,335.3 496.7,336.6 494.9,337.8 494.9,338.7 494,339.2 492.3,339.9 491.4,340 490.9,341.5 491.2,344 491.4,345.6 490.6,347.4 490.6,350.6 489.6,350.7 488.7,352.1 489.3,352.8 487.6,353.3 487,354.6 486.2,355.1 484.5,353.4 483.6,350.7 482.9,348.8 482.3,347.9 481.2,346.1 480.8,343.7 480.5,342.5 478.8,339.8 478,336.1 477.4,333.6 477.4,331.2 477.1,329.3 474.4,330.5 473.1,330.2 470.6,327.8 471.5,327.1 471,326.3 468.8,324.6Z"/>
<path class="c1" d="M580.8,292 582.4,294.8 582.9,296.3 582.9,298.9 582.2,300.2 580.5,300.6 579,301.6 577.3,301.8 577.1,300.5 577.5,298.8 576.7,296.4 578,296 576.7,294 576.9,293.8 577.7,293.9 578.4,292.8 579.7,292.7ZM576.8,304.2 578.1,303.8 577.9,304.2 577,304.4Z"/>
<path class="c2" d="M604.3,295.5 603.6,297.3 603.9,298.5 602.9,300.1 600.6,301.1 597.3,301.3 594.6,303.8 593.4,303 593.3,301.3 590.1,301.8 587.9,302.9 585.7,302.9 587.6,304.5 586.3,308.3 585.2,309.2 584.2,308.3 584.7,306.4 583.5,305.7 582.8,304.2 584.5,303.5 585.5,302.1 587.4,300.9 588.7,299.4 592.5,298.7 594.4,299.2 596.4,295.1 597.6,296.2 600.4,293.8 601.4,292.9 602.6,290 602.3,287.3 603.1,285.7 605,285.3 606,288.7 606,290.6 604.3,293ZM591.1,301.8 592.5,302.3 592.7,303.1 591.7,304.4 590.9,303.7 590,304.2 589.5,305.5 588.3,304.9 588.3,303.8 589.3,302.5 590.4,302.8ZM609.8,278.2 611.1,278.7 612.4,277.6 612.8,280.5 610,281.2 608.4,283.7 605.5,282 604.5,284.8 602.4,284.8 602.1,282.3 603.1,280.3 605.1,280.2 605.6,276.6 606.2,274.6 608.3,277.3ZM579.6,319.6 580.7,318.2 580.1,318.6ZM582.6,315 583.3,314.6 582.9,315.3ZM584.6,310.8 585.2,310.6 585,311Z"/>
<path class="c0" d="M494.1,356 493.9,357.9 493.1,358.4 491.5,358.9 490.6,357.4 490.3,354.7 491.1,351.6 492.4,352.7 493.2,354Z"/>
<path class="bd" d="M405.7,308.8 406.9,312.5 407.8,309 408.1,306.2 408.4,305.5 408.6,305.2M407.2,304.7 407.9,304.7 408.6,304.2 409,303 410.1,302.2 409.8,301.3 408.9,301.2M408.6,305.2 408.4,305.5 410.5,306.4 414.1,304 414.9,306.7 414.5,307.1 410.8,308.2 412.6,310.3 412,310.7 411.7,311.4 410.3,311.7 409.8,312.5 409,313.1 407,312.8M414.1,304 418.2,301.7 418.9,298.9 418.8,297.3 419.8,296.7 420.7,295.2M414.9,306.7 417.1,307.3 419.9,308.8 425.1,313.2 428.6,313.3 430.2,313.6 430.7,314.6 432,314.5M428.6,313.3 430,311.3 431.2,311.5M425.2,295.4 426.5,298.1 427.7,298.8 427.8,300.2 426.9,300.9 426.5,302.7 427.7,304.8 430,306 431,307.7 430.7,309.3 431.3,309.3 431.3,310.5 432.3,311.6M421.5,339.1 422.4,338.5 422.2,337.7 422.7,336.8 423.4,337.3 423.9,337.1 426.1,337 426.4,337.2 428.2,337.4 428.9,337.3 429.4,338 430.3,337.7 431.6,335.6 433.3,334.7 438.7,334 444.3,332 445.5,328 444.7,326.6 438.7,326 438,323.9 437.9,323.5M444.7,326.6 444.7,325.8 445.3,324.9 445.3,324.1 446.1,323.7 445.8,323.4 445.9,322.1 446.9,322.1M438.7,334 440.2,337.2 440.8,338.6M436.5,322.4 437.6,322.7M442.3,295.3 443.9,294.9 445.2,293.5 446.5,293.6 447.3,293.2 448.6,293.4 450.7,294.6 452.2,294.8 454.3,296.9 455.7,297 455.8,298.9 455.1,301.7 454.6,303.4 455.4,303.7 454.6,304.9 455.2,306.7 455.3,308.1 456.8,308.4 456.9,309.8 455.2,311.8 456.1,312.9 456.9,314.2 458.7,315.1 458.7,317 459.6,317.3 459.8,318.3 457.1,319.4 456.4,321.8M425.3,289.3 426.5,291.4 427.8,291.7 428.5,291.6 430.7,289.8 431.4,289.7 431.9,290.4 431.3,291.6 432.4,292.8 432.9,292.7M423,286 425.6,285.6 426,286.2 426.7,286.7 426.3,287.3 427.3,288.1 426.8,288.9 427.6,289.5 428.4,290 428.5,291.6M425.6,285.6 426.1,285.2 427.5,285.9 428.5,286 428.7,285.8 427.8,284.4 428.3,284.1M455.2,311.8 458.3,312.9 460.2,312.6 461.3,312.8 461.7,312.4 463,312.6 465.4,311.7 465.5,309.8 466.5,308.6 467.9,308.6 468.1,308 469.5,307.7 470.2,307.9 470.9,307.3 470.8,306 471.6,304.6 472.8,304.1 472.1,302.6 473.8,302.7 474.4,301.9 474.3,301 475.2,300 475,298.9 474.5,297.9 475.6,296.9 477.6,296.4 479.8,296.2 480.7,295.7 481.8,295.5M455.8,298.9 457.7,299.8 459.1,299.5 459.5,298.4 461,298.1 462.1,297.4 462.4,295.5 464,295.1 464.3,294.2 465.2,294.9 465.7,294.9 466.8,294.9 468.2,295.5 468.7,295.7 470.1,295 470.7,295.4 471.3,294.4 472.4,294.4 472.7,294 472.9,293.1 473.7,292.3 474.7,292.8 474.5,293.6 475.1,293.6 474.9,295.6 475.6,296.4 476.3,295.9 477.1,295.7 478.3,294.6 479.6,294.8 481.5,294.8M446.1,285.4 448.2,285.4 447.9,284.1 449.5,283.3 451,281.8 453.6,283.2 453.7,285.1 454.5,285.7 456.5,285.5 457.1,286 458,288.5 460.1,290.2 461.3,291.3 463.3,292.5 465.8,293.5 465.7,294.9M468.2,295.5 469.2,293.1 468.8,291.3 467.4,290.7 467.9,289.7 469.5,289.8 470.4,288.4 471,286.9 473.4,286.3 473.1,287.4 473.3,288.1 474.1,288.1 473.4,288.8 471.4,288.4 471.2,289.8 473.2,289.6 475.5,290.4 479,290M474.1,288.1 475.5,288.3 477.9,286.5 475.7,285.2 474.4,285.8 473,284.9 474.5,283.3 474,283M491.3,282.8 489.2,281.5 486.5,281.3 483.4,281.2 482.7,281.5 480,280.4 479,281 478.7,282.5 475.6,281.6 474.4,281.9 474,283 472.9,283.5 470.5,285.3 469.7,287 469,287 468.5,285.8 466.1,285.8 465.7,283.7 464.8,283.7 464.9,281.2 462.7,279.3 459.5,279.5 457.3,279.9 455.6,277.6 450.8,274.4 446,276 446.1,285.4 445.1,285.6 443.8,283.6 442.6,282.9 440.4,283.4 439.6,284.3M580.8,292 579.7,292.7 578.4,292.8 577.7,293.9 576.9,293.8 576.7,294M585.1,282.7 583.9,281.2 583.1,282.7 580.2,283.7 580.5,285 578.9,285 578,284.2 576.8,285.9 574.7,287.3 573.2,288.8M468.8,324.6 470,323.2 474.1,323.2 473.8,321.5 472.7,320.4 472.5,318.8 471.3,317.9 473.4,315.7 475.5,315.9 477.4,313.6 478.6,311.5 480.4,309.3 480.4,307.8 482,306.5 480.5,305.4 479.8,303.9 479.2,301.9 480.1,300.9 482.9,301.5 485,301.2 486.8,299.3M523.1,315.1 523.2,315.9 522.5,316.3 522.7,317.6 521.4,317.2 519,318.7 519,319.9 518,321.6 517.9,322.6 517.1,324.3 515.6,323.8 515.5,325.9 515.1,326.6 515.3,327.4 514.4,327.9M514.4,327.9 513.4,324.7 512.9,324.7 512.6,326 511.6,325 512.2,323.8 513,323.7 513.9,322 512.8,321.6 511,321.7 509.3,321.4 509.1,319.9 508.2,319.8 506.7,318.9 506.1,320.3 507.4,321.4 506.3,322.2 505.9,322.9 507,323.5 506.7,324.7 507.3,326.2 507.6,327.9M492.9,311 491.7,312 491,314 492.8,314.8 494.5,315.8 497,317 499.5,317.3 500.6,318.3 502,318.5 504.3,319 505.8,319 506,318.2 505.8,316.8 505.9,315.9M507.2,317.1 507.3,317.6 508.9,318.4 510.1,318 511.7,318.2 513.2,318.1 513.3,316.8 512.6,316.2M512.6,316.2 511.8,315.6 510.8,315.6 509.5,315 508.5,315.6 507.2,317.1M505.9,315.9 503.7,315.7 501.6,315.3 500.1,314.3 498.7,313.9 498.1,312.9 497,312.6 495.1,311.2 493.7,310.5 492.9,311M543,328.9 540.3,327.6 540.6,326.4 538.8,326 538,325.3 536.4,326.4 534.6,326.6 533.1,326.6 532.1,327.1 531.1,327.4 531.4,329.7 530.4,329.6 530.2,329.1 530.2,328.3 528.8,328.9 528,328.5 526.6,327.8 527.2,326.1 526,325.7 525.5,323.8 523.6,324.2 523.8,321.8 525.6,320 525.6,318.3 525.6,316.7 524.8,316.2 524.1,315 523.1,315.1M514.4,327.9 514.4,329.4 513.7,329.1 513.8,330.7M530.2,329.1 528.7,330.4 528.3,331.2 527.2,331.6 526.1,332.5 524.8,332.6 523.9,334.7 523.2,335.1 524.1,336.8 525.2,338.2 526,339.5 525.3,341.2 524.7,341.5 525.1,342.5 526.4,344 526.6,345.1 526.5,346 527.3,347.7 526.2,349.5 525.3,351.4M528.3,331.2 529.1,331.8 529.2,333 530.4,333.1 530,335.1 530,336.9 532,335.7 532.5,336.1 533.6,336 534,335.3 535.4,335.5 536.8,337 536.9,339 538.4,340.7 538.3,342.3 537.8,343.2 536,342.9 533.6,343.2 532.4,344.8 532.8,347.1M532.1,327.1 533.2,328.6 534,330.5 536.3,330.5 537,332.2 535.8,332.7 535.3,333.4 537.5,334.6 539.1,336.9 540.2,338.7 541.6,340 542.1,341.4 541.8,343.3 540.1,342.6 539.3,343.9 537.8,343.2M541.8,343.3 542.2,344.6 542,346.9 538.8,348.3 539.7,349.5 537.7,349.6 536.1,350.4M528.2,358 528.5,357.6 530,358.4 530.2,359.4 531.4,359.2 532,358.4"/>
<path class="c0" d="M612.7,279.1 614.2,277.6 614.8,277.5 613.7,278.7Z"/>
<path class="c0" d="M615.3,277.3 617.9,275.2 618.9,274.7 617.4,276.1Z"/>
<path class="c0" d="M620.2,274.4 622,272.8 621.5,273.8Z"/>
<path class="c0" d="M624.4,271.2 625.4,270.1 625,270.9Z"/>
<path class="c0" d="M626.7,268.7 627.4,267.9 627.1,268.5Z"/>
<path class="c0" d="M629.5,264.8 630.4,263.4 630,264.2Z"/>
<path class="c0" d="M631,261.3 632.4,260 632.4,261.1 631.3,261.9Z"/>
<path class="c0" d="M650.3,245.9 651.4,246.9 651.1,247.6Z"/>
<path class="c0" d="M439.6,108 443.4,109.1 447.1,106.9 448.9,103.6 445.2,101.8 441.5,104.7Z"/>
<path class="c0" d="M449.5,109.1 452.7,110.7 454,106.9 451.7,104.7Z"/>
<path class="c0" d="M449.9,101.3 454.5,101.8 458.2,98.9 455.4,95.3 450.8,97.7Z"/>
<path class="c0" d="M442.4,98.9 447.1,98.9 448.9,94 444.3,93.4Z"/>
<path class="c0" d="M458.8,103.6 462.5,102.4 463.3,97.7 459.5,98.9Z"/>
<path class="c0" d="M435.9,98.9 439.6,99.5 438.7,95.9Z"/>
<path class="c0" d="M430.3,100.7 434,100.1 433.1,97.7Z"/>
<path class="c0" d="M445.2,111.8 448,112.3 447.1,110.2Z"/>
<path class="c0" d="M523.4,109.1 527.1,110.2 528,106.9 524.3,105.8Z"/>
<path class="c0" d="M483.7,115.4 486.2,115.4 485.2,113.4Z"/>
<path class="c0" d="M512.2,132.4 515,133.3 514.1,130.7Z"/>
<path class="c0" d="M471.8,164.7 474.6,166 474.1,164.1Z"/>
<path class="c0" d="M451.5,184.9 454.1,186 454.3,183.3 452.3,182.7Z"/>
<path class="c0" d="M595,161.4 596.9,161.1 596,160.1Z"/>
<path class="c0" d="M632.3,259.9 633.2,259.6 633,260.5Z"/>
<path class="c0" d="M519.3,359.8 523.3,360.2 525,362 526.4,363.3 527.5,364.1 529.2,366.1 531.1,366.1 532.7,367.4 533.8,369 535.2,369.8 534.4,371.3 535.5,372 536.2,372 536.5,373.3 537.1,374.4 538.5,374.5 539.4,375.7 538.9,378 538.9,380.9 536.8,380.9 535.2,379.4 532.8,377.9 532.1,376.7 530.6,375.2 529.7,373.8 528.3,371.2 526.7,369.7 526.1,368.1 525.4,366.6 523.8,365.4 522.8,363.8 521.4,362.8 519.4,360.7Z"/>
<path class="c0" d="M539.3,381 541.6,381.1 543.1,381.8 543.8,382 544.1,382.6 547.7,382.8 548.1,382.1 551.5,383 552.2,384.2 555,384.5 557.3,385.6 555.1,386.3 553.1,385.6 551.4,385.7 549.5,385.5 547.7,385.2 545.6,384.4 544.2,384.3 543.4,384.5 540,383.7 539.7,382.9 538,382.8Z"/>
<path class="c0" d="M561.3,362.3 560.3,364 561.6,365.7 561.3,366.6 563.4,368.3 561.2,368.5 560.6,369.8 560.6,371.5 558.9,372.8 558.8,374.6 558.1,377.5 557.8,376.8 555.7,377.7 555,376.5 553.6,376.4 552.7,375.8 550.5,376.5 549.8,375.6 548.6,375.7 547.1,375.5 546.8,373 545.8,372.4 545,370.9 544.7,369.2 544.9,367.5 546,366.3 547.4,366.9 548.8,366.6 549.2,365 550,364.6 552.2,364.2 553.6,362.8 554.5,361.6 555.2,360.9 556.8,359.8 558.2,358.6 559.2,357.1 559.9,357.1 560.9,358 561,358.8 562.2,359.4 563.7,359.9 563.6,360.6 562.4,360.7 562.7,361.7Z"/>
<path class="c0" d="M575,367.4 573.5,369.2 572.1,369.6 570.3,369.2 567.2,369.3 565.6,369.6 565.3,371 567,372.6 568,371.8 571.5,371.2 571.3,372 570.5,371.7 569.7,372.8 568.1,373.5 569.8,375.9 569.5,376.6 571.2,378.7 571.1,380 570.2,380.5 569.4,379.8 570.3,378.3 568.5,379 568,378.5 568.3,377.8 566.9,376.7 567.1,374.9 565.8,375.5 566,377.6 566.1,380.3 564.9,380.6 564.1,380 564.6,378.3 564.3,376.5 563.5,376.5 563,375.2 563.7,374 564,372.5 564.9,369.7 565.3,368.9 566.9,367.6 568.4,368.1 570.7,368.4 572.9,368.3 574.7,366.9Z"/>
<path class="c0" d="M591.6,372.1 592.1,375.2 594,376.3 595.6,374.3 597.7,373.2 599.4,373.2 601,373.8 602.4,374.5 604.3,374.8 607.6,376.1 611,377.2 612.3,378.1 613.3,379.1 613.6,380.2 616.7,381.3 617.2,382.3 615.5,382.5 615.9,383.8 617.5,385 618.7,387 619.8,387 619.7,387.8 621.2,388.1 620.6,388.5 622.6,389.3 622.4,389.8 621.2,389.9 620.7,389.4 619.1,389.2 617.2,389 615.8,387.7 614.7,386.7 613.7,385.1 611.3,384.2 609.7,384.8 608.6,385.4 608.8,386.8 607.4,387.4 606.3,387.1 604.4,387 602.7,385.5 600.9,385.1 600.4,385.7 598,385.7 598.8,384.2 600,383.7 599.5,381.6 598.6,380 595,378.5 593.5,378.3 590.7,376.6 590.1,377.5 589.4,377.7 589,377 589,376.2 587.6,375.3 589.6,374.6 590.9,374.6 590.8,374.1 588,374.1 587.3,373 585.6,372.7 584.8,371.7 587.4,371.3 588.3,370.7 591.3,371.5Z"/>
<path class="c0" d="M567.7,335 568.9,335.5 569.4,335 569.6,335.5 569.3,336.3 570,337.7 569.4,339.3 568.3,340 568.1,341.5 568.5,343 569.5,343.3 570.3,343 572.6,344.1 572.4,345.1 573,345.6 572.9,346.5 571.4,345.5 570.7,344.5 570.2,345.2 569,344.1 567.4,344.4 566.4,343.9 566.5,343.2 567.1,342.7 566.5,342.2 566.3,342.9 565.4,341.8 565.1,341 565,339.1 565.8,339.8 566,336.7 566.6,334.9Z"/>
<path class="c0" d="M577.1,354.3 577.3,355.5 577.4,356.6 576.8,358.3 576.1,356.4 575.2,357.3 575.8,358.7 575.3,359.6 573.1,358.5 572.6,357.1 573.2,356.3 572,355.4 571.4,356.2 570.5,356.1 569.1,357.1 568.8,356.6 569.6,355 570.7,354.5 571.8,353.8 572.4,354.6 573.8,354.1 574.1,353.3 575.4,353.2 575.3,351.7 576.8,352.6 577,353.6Z"/>
<path class="c0" d="M564.3,348.7 564.7,350.3 563.5,351.3 562.5,352.6 560,354.4 560.9,353 562.3,351.9 563.4,350.6Z"/>
<path class="c0" d="M573.2,346.4 575,346.5 575.5,347.2 576,349.3 574.6,348.8 574.6,349.4 575.1,350.6 574.2,351 574.1,349.7 573.6,349.6 573.3,348.5 574.4,348.6 574.3,347.9Z"/>
<path class="c0" d="M568.8,347.7 569.9,348.3 571.1,348.3 571,349.1 570.2,349.9 569,350.5 568.9,349.6 569.1,348.6Z"/>
<path class="c0" d="M572.7,350.8 572,351.4 571.4,352.6 570.8,353.1 569.7,351.8 570.1,351.3 570.5,350.8 570.8,349.6 571.8,349.5 571.5,350.8 572.9,349Z"/>
<path class="c0" d="M568.1,345.5 567.6,347.1 566.8,346.2 565.9,344.7 567.5,344.8Z"/>
<path class="c0" d="M571.7,389.2 571.9,388.5 572.7,387.4 574.5,386.6 574.7,386.2 576.3,385.7 577.6,385.7 578.2,385.4 578.9,385.7 578.2,386.2 576.3,387 574.7,387.6 573.5,389 571.9,389.4Z"/>
<path class="c0" d="M559.2,385.9 561.4,385.1 562,385.6 563.2,385.5 563.6,386.3 561.5,386.7 560.2,386.9 559.2,386.9Z"/>
<path class="c0" d="M565.1,386.5 566.6,385.4 567.8,386 569,385.8 570.7,385.1 570.4,386.2 567.6,386.7Z"/>
<path class="c0" d="M565.1,387.5 566.1,388.1 566.7,388.7 566.6,389.2 565.8,389.2 563.3,387.9Z"/>
<path class="c0" d="M557.6,385.5 558.7,385.5 558.6,386.5 557.6,386.4Z"/>
<path class="c0" d="M555,385.3 556.7,385.3 556.9,386.1 556,386.3Z"/>
<path class="c0" d="M580,366 580.1,367 581.2,367.1 581.4,367.9 581.3,369.5 580.4,369.3 580.1,370.5 580.9,371.5 580.3,371.7 579.6,370.5 579,368.1 579.4,366.6Z"/>
<path class="c0" d="M584.7,375.8 585.4,377.2 583.9,376.4 582.3,376.3 581.2,376.4 580,376.3 580.4,375.3 582.7,375.2Z"/>
<path class="c0" d="M578,377.1 576.8,376.7 576.4,375.9 578.3,375.8 578.8,376.4Z"/>
<path class="c0" d="M626,376.8 626.7,377.4 626.9,378.4 626.4,378.9 626,377.8 625.6,377.1 624.7,376.4 623.7,375.7 622.3,375.1 622.8,374.7 623.9,375.2 624.5,375.6 625.3,376Z"/>
<path class="c0" d="M623.5,380.9 622.5,381.3 621.5,381.8 620.6,381.8 619,381.2 618,380.7 618.1,380.1 619.8,380.4 620.8,380.3 621.4,379.3 621.5,380.3 622.6,380.2 623.1,379.5 624.2,378.9 624,377.8 625.1,377.7 625.5,378 625.4,379.1 624.8,380.2 623.8,380.4Z"/>
<path class="c0" d="M629.8,379.5 631.3,381.2 632.3,382.3 631.7,382.9 630.4,381.6 629.7,380.3Z"/>
<path class="c0" d="M633.2,382.5 635.1,383.6 637.5,384.9 639.5,385.9 639.3,385.5 637.1,384.4 635.1,383.2Z"/>
<path class="c0" d="M639,387.4 641,388 641.2,388.5 639.3,388.3Z"/>
<path class="c0" d="M640.8,385.5 641.9,387 642.5,388.1 641.6,386.8Z"/>
<path class="c0" d="M642.5,389.3 644,389.7 643.6,390.2 642.1,389.5Z"/>
<path class="c0" d="M652,397.5 652.9,398.2 653.1,400 652.4,399.4Z"/>
<path class="c0" d="M653.1,400.2 654.2,400.9 653.7,401.3Z"/>
<path class="c0" d="M671.9,403.5 674,402.9 674.5,404.3 672.5,404.5Z"/>
<path class="c0" d="M674.7,401.1 676.9,400.4 675.8,401.7Z"/>
<path class="c0" d="M540.3,374.8 539.4,373.4 538.5,373 539,374.3 539.9,375.6Z"/>
<path class="c0" d="M542.2,374.8 543.3,375 543.1,376 542.2,375.8Z"/>
<path class="c0" d="M522.6,367.4 524.1,368.7 523.6,368.1Z"/>
<path class="c0" d="M525.4,371.9 526.7,373.2 526,373Z"/>
<path class="c0" d="M527.8,374.8 529,375.8 528.4,376Z"/>
<path class="c0" d="M591.7,380.6 592.6,380.8 592.6,382.5 591.7,382.3Z"/>
<path class="c0" d="M585.7,384.4 587,384.2 586.5,384.9Z"/>
<path class="c0" d="M573.8,373.2 576.2,373.4 576.4,373.6 574.4,373.5Z"/>
<path class="c0" d="M570.8,372.6 571.8,372.4 571.4,373Z"/>
<path class="c0" d="M514.3,347.5 515,344.8 514.8,347.1 514.4,348.3Z"/>
<path class="c0" d="M516.3,356.6 516.7,356.9 516.5,357.3Z"/>
<path class="c0" d="M615.3,373.7 616.3,373.7 615.9,374.1Z"/>
<path class="bd" d="M546.3,367.5 547.6,368.6 548.8,368.2 550,368.3 551.1,367.4 552,367.2 553.7,367.7 555.2,367.3 556.2,364.7 556.9,364.1 557.6,362 559.7,362 561.3,362.3M554.5,361.6 555.7,361.9 556.6,362 556.8,359.8M604.3,374.8 604.4,380.9 604.4,387M574.5,386.6 574.7,387.6"/>
<path class="c1" d="M609.1,395.9 609.8,397.4 611,396.6 611.6,397.5 612.5,398.2 612.3,399.1 612.7,400.7 613,401.7 613.4,401.9 613.9,403.6 613.8,404.6 614.4,406 616.4,407 617.7,407.9 619,408.8 618.7,409.3 619.8,410.5 620.5,412.7 621.2,412.2 622,413.1 622.5,412.8 622.8,414.9 624.1,416.2 624.9,417 626.4,418.6 626.9,420.3 627,421.5 626.8,422.8 627.7,424.6 627.6,426.4 627.3,427.4 626.8,429.3 626.8,430.6 626.5,432.1 625.7,434.1 624.3,435.2 623.6,437 623,438.1 622.4,440 621.7,441.1 621.2,442.9 621,444.5 621.1,445.2 620,446 617.9,446.1 616.2,447.1 615.4,448 614.2,449 612.7,448 611.6,447.6 611.8,446.3 610.8,446.8 609.2,448.5 607.6,447.8 606.5,447.5 605.5,447.3 603.7,446.6 602.5,445.2 602.1,443.4 601.7,441.3 600.8,441.3 599,441 599.6,439.9 599.2,438.2 598.2,439.8 596.6,440.2 597.6,439 597.8,437.7 598.6,436.6 598.4,434.9 596.9,436.8 595.7,437.6 595,439.4 593.6,438.4 593.6,437.2 592.5,435.6 591.5,434.8 591.8,434.3 589.4,432.9 588.1,432.9 586.3,431.8 583,432 580.6,433.4 578.5,433.5 576.7,433.4 574.7,434.5 573.1,435 572.8,436.2 572.1,437.1 570.5,437.2 569.3,437.4 567.7,437 566.3,437.2 565.1,437.3 564,438.5 563.4,438.4 562.5,439.1 561.6,439.8 560.2,439.7 559,439.7 557,438.2 556,437.8 556,436.5 557,436.2 557.3,435.7 557.2,434.9 557.4,433.4 557.2,432.1 556.3,429.9 556,428.6 556,427.4 555.3,426 555.2,425.4 554.4,424.6 554.2,422.9 553.1,421.3 552.9,420.4 553.7,421.3 553.1,419.4 554,420 554.5,420.8 554.5,419.7 553.6,418.1 553.4,417.4 553,416.8 553.2,415.6 553.6,415.1 553.8,414.1 553.6,413 554.4,411.5 554.5,413 555.3,411.7 556.8,411 557.7,410.1 559.1,409.4 560,409.2 560.5,409.5 562,408.7 563.1,408.5 563.4,408.1 563.9,407.9 564.9,408 566.9,407.4 567.9,406.5 568.3,405.5 569.4,404.5 569.5,403.7 569.6,402.6 570.9,401 571.6,402.6 572.4,402.3 571.8,401.3 572.4,400.4 573.2,400.8 573.4,399.3 574.4,398.4 574.9,397.6 575.8,397.3 575.9,396.8 576.7,397 576.7,396.5 577.5,396.2 578.4,396 579.8,396.9 580.8,398 582,398 583.2,398.2 582.8,397.1 583.7,395.6 584.5,395.1 584.2,394.6 585,393.5 586.1,392.8 587.1,393.1 588.7,392.7 588.6,391.7 587.3,391.1 588.3,390.8 589.5,391.3 590.5,392.1 592,392.6 592.6,392.4 593.7,393 594.8,392.4 595.5,392.6 596,392.2 596.8,393.2 596.3,394.2 595.6,395 595,395 595.2,395.8 594.6,396.7 594,397.7 594.1,398.2 595.6,399.3 597,399.9 598,400.6 599.3,401.7 599.9,401.7 600.8,402.2 601.1,402.8 602.9,403.5 604.1,402.8 604.5,401.8 604.8,400.9 605.1,399.9 605.6,398.3 605.4,397.4 605.5,396.8 605.3,395.7 605.6,394.3 605.9,393.9 605.6,393.3 606.1,392.3 606.4,391.2 606.5,390.7 607.2,390 607.7,390.9 607.8,392.1 608.3,392.3 608.4,393.1 609,394.1 609.2,395.2ZM612.5,453.3 614.3,454.2 615.3,453.8 616.8,453.3 617.9,453.5 618,456.4 617.4,457.3 617.2,459.3 616.6,458.7 615.3,460.4 614.9,460.3 613.7,460.2 612.6,458 612.3,456.4 611.3,454.2 611.3,453.1ZM596.2,441.3 598,441 598.9,441.6 597.8,442 596.2,441.9ZM584.6,391.4 586.3,391.2 585.7,392.3 584.6,391.9ZM596,395.9 596.7,395.9 596.5,396.7 595.8,396.7ZM609.7,450.6 610.1,451.1 609.7,451.6ZM617.2,450.9 617.9,451.4 617.6,452.3 617,451.6ZM626.7,418.1 627.2,417.7 627.1,419.5Z"/>
<path class="c1" d="M663.9,453.6 664.4,454.6 665.7,453.6 666.2,454.7 666.2,455.7 665.5,456.9 664.3,458.7 663.4,459.8 664.1,461 662.6,461 661,462 660.5,463.7 659.5,466.4 658,467.6 657.1,468.4 655.4,468.3 654.2,467.4 652.1,467.2 651.8,466.2 652.8,464.3 655.2,461.7 656.4,461.2 657.7,460.2 659.3,458.9 660.4,457.6 661.2,455.7 661.9,455.1 662.2,453.7 663.5,452.6ZM666.9,442.3 668.3,444.7 668.3,443.1 669.1,443.8 669.4,445.5 670.9,446.3 672.2,446.5 673.2,445.6 674.2,445.9 673.7,447.9 673.2,449.4 671.7,449.3 671.2,450 671.4,451.1 671.1,451.5 670.4,452.8 669.5,454.5 668.1,455.5 667.8,454.9 667,454.5 668.1,452.5 667.4,451.1 665.4,450.2 665.5,449.3 666.8,448.5 667.1,446.6 667.1,445.1 666.3,443.5 666.4,443.1 665.5,442.2 664,440.2 663.2,438.6 663.9,438.4 664.9,439.6 666.4,440.2ZM653.9,468.8 655,469.1 654.6,469.9 653.9,469.6Z"/>
<path class="c0" d="M650.5,410.2 652,411.4 653,412.3 652.3,412.8 651.2,412.3 649.9,411.4 648.7,410.3 647.5,408.9 647.2,408.2 648,408.2 649.1,408.9 649.9,409.6Z"/>
<path class="c0" d="M20.3,395.2 21.4,395.4 21.2,395.9Z"/>
<path class="c0" d="M22,395.9 22.9,396.1 22.5,396.4Z"/>
<path class="c0" d="M15.5,410.2 16.2,410.3 15.8,410.6Z"/>
<path class="c0" d="M17.9,405.2 18.3,405.4 18.1,405.6Z"/>
<path class="c0" d="M7.1,400.8 8.2,401.3 7.3,401.9Z"/>
<path class="c0" d="M63.5,403.1 64.4,403.3 64,403.9Z"/>
<path class="c0" d="M59.9,401.5 60.3,401.9 59.9,401.9Z"/>
<path class="c0" d="M81,386.4 81.5,386.6 81.2,386.8Z"/>
<path class="c0" d="M48.8,366.6 49.3,366.5 49.1,366.8Z"/>
<path class="c0" d="M138.1,422.4 138.7,422.4 138.5,422.6Z"/>
<path class="c0" d="M171.6,370.6 172.5,370.6 172.7,371.7 171.8,371.9Z"/>
<path class="c0" d="M173.5,370.9 174,371 173.8,371.5Z"/>
<path class="c0" d="M175.2,371.3 175.7,371.4 175.5,371.8Z"/>
<path class="c0" d="M613.1,341.4 613.3,341.8 613.1,341.9Z"/>
<path class="c0" d="M611.2,344.4 611.6,344.6 611.2,345Z"/>
<path class="c0" d="M592.2,355.8 592.4,356.2 592.2,356.4Z"/>
<path class="c0" d="M636.4,357 636.5,357.2 636.3,357.3Z"/>
<path class="c0" d="M624.4,356.2 624.6,356.4 624.4,356.4Z"/>
<path class="c0" d="M448.6,408 449.5,408.2 449.1,409 448.6,408.8Z"/>
<path class="c0" d="M422.5,391.4 422.9,392.3 422.4,392.1Z"/>
<path class="c0" d="M424.4,392.7 424.7,393.1 424.4,393.1Z"/>
<path class="c0" d="M425.9,393.8 426.1,394.2 425.9,394.3Z"/>
<path class="c0" d="M445,378.6 445.3,378.9 445,378.9Z"/>
<path class="c0" d="M478.5,362.2 478.7,362.4 478.5,362.5Z"/>
<path class="c0" d="M476.7,383.6 476.9,383.7 476.7,383.8Z"/>
<path class="c0" d="M441.5,346.4 443.2,346.4 442.4,346.8 441.3,346.7Z"/>
<path class="c0" d="M294.8,337.7 295.6,337.7 295.2,338.2Z"/>
<path class="c0" d="M297.8,341.3 298.3,341.6 297.8,341.9Z"/>
<path class="c0" d="M296.5,341.9 296.7,342 296.4,342Z"/>
<path class="c0" d="M299.3,339.4 299.7,339.6 299.3,339.8Z"/>
<path class="c0" d="M309.7,315.3 310.1,315.4 309.8,315.6Z"/>
<path class="c0" d="M283.8,289.9 284,290.1 283.8,290.1Z"/>
<path class="c0" d="M221.1,306.3 221.5,306.3 221.3,306.5Z"/>
<path class="c0" d="M331.1,400.1 331.4,400.1 331.3,400.2Z"/>
<path class="c0" d="M315.1,384.8 315.3,384.8 315.1,384.9Z"/>
<path class="c0" d="M354,369.4 354.4,369.4 354.2,369.9Z"/>
<path class="c0" d="M355.6,366.9 355.8,367 355.7,367.1Z"/>
<path class="c0" d="M357.9,363.1 358.5,363.3 358.1,363.9Z"/>
<path class="c0" d="M470.3,474.9 472.2,475.2 473.1,476.1 471.5,476.8 470.2,476.1Z"/>
<path class="c0" d="M328.9,221.1 329.8,221.1 329.4,222.3Z"/>
<path class="c2" d="M310.5,314.9 311.8,314.6 311.2,315.6Z"/>
<path class="c2" d="M312.5,315.5 313.3,315.5 312.9,316.1Z"/>
<path class="c2" d="M315.3,314.4 316,314.2 315.9,315.3 315.1,315.5Z"/>
<path class="c2" d="M316.2,313.3 316.9,313.1 316.6,313.8Z"/>
<path class="c2" d="M308.4,314 308.9,314 308.7,314.6Z"/>
<path class="c2" d="M309.7,315.3 310.1,315.4 309.8,315.6Z"/>
<path class="c2" d="M309.9,305.2 310.8,305.3 310.5,305.6Z"/>
<path class="c2" d="M293.9,293.7 295,293.8 294.5,294.1Z"/>
<path class="c2" d="M288.5,292 289.6,292.2 289.1,292.5Z"/>
<path class="c2" d="M291.1,291.5 291.5,291.8 291.1,291.9Z"/>
<path class="c2" d="M283.8,289.9 284,290.1 283.8,290.1Z"/>
<path class="c2" d="M444.8,409.8 445.8,410 445.4,410.7 444.8,410.4Z"/>
<path class="c5" d="M326.7,178.8 327.2,179.4 326.5,179.9Z"/>
<path class="c0" d="M385.6,250.4 387.4,250.4 389.5,249.2 389.9,247.4 391.4,246.4 391.2,244.9 392.4,244.4 394.4,243.1 396.3,243.9 396.6,244.7 397.6,244.3 399.4,245.1 399.6,246.7 399.2,247.5 400.3,249.6 401.1,250.2 401,250.8 402.2,251.3 402.8,252.2 402,252.8 400.5,252.7 400.2,253 400.6,254 401.1,256 399.5,256.2 398.9,256.8 398.8,258.3 398,258 396.4,258.2 395.9,257.5 395.2,258 394.5,257.6 393,257.5 390.9,256.8 389.1,256.6 387.6,256.6 386.6,257.4 385.7,257.6 385.7,256.2 385.1,254.8 386.2,254.2 386.2,253 385.7,251.8Z"/>
<path class="c0" d="M391.5,267.3 391.9,266.9 393.1,266.6 394.5,267.4 395.3,267.6 396.1,268.3 396,269.3 396.7,269.7 396.9,270.8 397.6,271.5 397.5,271.9 397.8,272.2 397.3,272.4 396.2,272.3 396,272 395.6,272.2 395.8,272.7 395.3,273.5 394.9,274.4 394.5,274.7 394.1,273.5 394.3,272.4 393.2,269.5 392.6,268.4 392,267.6Z"/>
<path class="c0" d="M384.2,249.1 380.8,249.1 378.5,248.7 378.9,247.3 381.5,246.3 383.5,246.8 384.3,247.4 384.1,248.3Z"/>
<path class="c0" d="M377.3,276.4 378,276.4 377.5,277.5 378.4,278.5 378.1,279.7 377.7,279.9 377.3,280.1 376.7,280.7 376.5,282.1 374.8,281.1 374.1,280 373.4,279.5 372.6,278.5 372.1,277.7 371.2,276.5 371.6,275.4 372.3,276 372.7,275.5 373.6,275.4 375.2,275.8 376.4,275.8Z"/>
<path class="c0" d="M380.8,274.9 381.9,275.5 382,276.6 383.1,277.4 383.7,276.8 384.2,277.1 383.7,277.6 384.1,278 383.6,278.6 383.8,279.5 384.7,280.7 384,281.4 383.7,282.3 383.9,282.6 383.6,282.9 382.7,283 382.1,283.1 382,282.9 382.2,282.6 382.5,282 382.2,282 381.8,281.5 381.5,281.4 381.3,281 380.9,280.9 380.6,280.5 380.3,280.6 380.1,281.5 379.6,281.7 379.8,281.4 379.1,280.9 378.5,280.7 378.2,280.3 377.7,279.9 378.1,279.7 378.4,278.5 377.5,277.5 378,276.4 377.3,276.4 378,275.4 377.4,274.6 377,273.6 378.4,272.9 379.5,273 380.6,274.1Z"/>
<path class="c0" d="M380.2,284.1 380.1,283.2 379.7,282.9 379.3,282.2 379.6,281.7 380.1,281.5 380.3,280.6 380.6,280.5 380.9,280.9 381.3,281 381.5,281.4 381.8,281.5 382.2,282 382.5,282 382.2,282.6 382,282.9 382.1,283.1 381.7,283.2 380.6,283.6 380.5,284.1Z"/>
<path class="c0" d="M378.8,282.5 378.7,282 377.8,283.2 378,284 377.6,283.8 377.1,283 376.3,282.5 376.5,282.1 376.7,280.7 377.3,280.1 377.7,279.9 378.2,280.3 378.5,280.7 379.1,280.9 379.8,281.4 379.6,281.7 379.3,282.2Z"/>
<path class="c0" d="M380.2,284.1 380,284.9 380.3,286 381,286.6 381,287.2 380.4,287.6 380.3,288.4 379.4,289.6 379.1,289.4 379.1,288.8 378,288 377.9,286.9 378,285.2 378.3,284.4 378,284 377.8,283.2 378.7,282 378.8,282.5 379.3,282.2 379.7,282.9 380.1,283.2Z"/>
<path class="c0" d="M380.2,284.1 380.5,284.1 380.6,283.6 381.7,283.2 382.1,283.1 382.7,283 383.6,282.9 384.5,283.7 384.6,285.4 384.3,285.5 384,285.9 383,285.8 382.2,286.4 381,286.6 380.3,286 380,284.9Z"/>
<path class="c1" d="M410.6,285.4 413.3,286.3 415.5,285.9 417.1,286.2 419.2,284.9 421.2,284.8 423,286 423.3,286.8 423.2,288 424.6,288.6 425.3,289.3 424,290 424.6,292.8 424.2,293.5 425.2,295.4 424.3,295.8 423.7,295.2 421.5,294.9 420.7,295.2 418.6,295.6 417.6,295.6 415.5,296.4 413.9,296.5 413,296 410.9,296.7 410.3,296.2 410.2,297.5 409.7,298 409.2,298.5 408.5,297.5 409.2,296.6 408.1,296.8 406.5,296.2 405.3,297.6 402.4,297.8 400.9,296.6 398.9,296.5 398.5,297.5 397.2,297.8 395.4,296.5 393.4,296.6 392.3,294.3 390.9,292.9 391.8,291.1 390.6,290 392.7,287.6 395.6,287.5 396.3,285.7 399.9,286 402.1,284.4 404.3,283.7 407.4,283.6ZM390.5,284.1 392.4,283.4 394,283.7 394.3,284.7 395.9,285.5 395.5,286.1 393.3,286.2 392.5,287 391,288.3 390.4,287.1 390.4,286.6 390.8,286.3 391.4,284.8Z"/>
<path class="c1" d="M402.8,300.1 403,300 403.2,299.5 404.6,299.5 406.3,298.9 405,299.8 405.2,300.4 403.3,301.4 402.4,301.1 402,300.2Z"/>
<path class="c2" d="M314.9,202.7 314.5,205.7 316.6,208.8 314.2,212.1 308.8,215 307.2,215.8 304.7,215.2 299.6,213.8 301.4,212 297.3,209.8 300.6,209 300.5,207.7 296.6,206.6 297.9,203.7 300.7,203 303.6,206.1 306.4,203.6 308.8,204.9 311.8,202.4Z"/>
<path class="c1" d="M330.4,250.5 330.7,252.8 329.3,255.5 326,257.3 323.3,256.8 324.8,253.7 323.9,250.5 326.4,248 327.8,246.5 328.2,248.2 327.8,249.9 329,249.9Z"/>
<path class="c2" d="M333.4,266 335.8,265.4 338.9,266.1 338.3,262.9 340.1,264.1 344.4,261.8 345,259.4 346.6,258.9 346.9,259.9 347.7,259.9 348.6,261.1 349.9,262.5 350.8,262.2 352.5,263.6 352.9,263.8 353.4,263.8 354.3,264.5 357,265 356,267 355.8,268.9 355.3,269.4 354.5,269.2 354.5,269.9 353.2,271.4 353.1,272.6 354,272.2 354.6,273.4 354.6,274.1 355.1,275.1 354.5,275.9 355,278 356,278.3 355.8,279.4 354.1,280.9 350.4,280.2 347.7,281 347.5,282.5 345.3,282.9 343.2,281.7 342.5,282.3 339.1,281.1 338.4,280.1 339.3,278.6 339.7,273.3 337.8,270.5 336.4,269.1 333.6,268ZM358.2,282.1 359.4,281.2 359.7,283.3 359.1,285.3 358.3,284.8 357.8,283.1Z"/>
<path class="c2" d="M325.1,284 325.2,282.2 324.4,281.1 327.1,279.3 329.4,279.7 331.8,279.7 333.8,280.2 335.4,280 338.4,280.1 339.1,281.1 342.5,282.3 343.2,281.7 345.3,282.9 347.5,282.5 347.6,284 345.8,285.6 343.4,286.2 343.3,287 342.1,288.4 341.4,290.3 342.1,291.7 341,292.7 340.7,294.3 339.2,294.8 337.9,296.5 333.8,296.5 332.6,297.4 331.9,298.2 331,298 330.3,297.2 329.8,295.9 328.1,295.5 327.9,294.8 328.6,293.9 328.8,293.2 328.2,292.6 328.7,291 328,289.5 328.8,289.3 328.8,288.2 329.1,287.8 329.2,285.9 330,285.3 329.5,284 328.4,283.9 328.1,284.2 327,284.2 326.5,283 325.8,283.4ZM346.4,289.7 347.9,288.8 348.3,289.4 347.7,290.3 346.9,289.9ZM344.2,291.3 344.9,290.8 344.8,291.4ZM349,288.6 349.9,288.8 349.7,289.1Z"/>
<path class="c2" d="M325.1,284 325.8,283.4 326.5,283 327,284.2 328.1,284.2 328.4,283.9 329.5,284 330,285.3 329.2,285.9 329.1,287.8 328.8,288.2 328.8,289.3 328,289.5 328.7,291 328.2,292.6 328.8,293.2 328.6,293.9 327.9,294.8 328.1,295.5 327.3,296.2 326.3,295.8 325.4,296.1 325.6,294.3 325.5,292.8 324.6,292.6 324.2,291.7 324.3,290.1 325.1,289.2 325.2,288.3 325.6,286.8 325.6,285.8 325.2,284.9Z"/>
<path class="c2" d="M361.3,271 362.5,271.3 362.7,270.8 364.5,270.3 365,271.3 367.6,272 367.4,273.3 367.9,274.4 366.4,274 364.9,275 365,276.3 364.7,277.1 365.3,278.4 367.1,279.7 368,281.8 370.1,283.8 371.6,283.8 372,284.4 371.5,284.9 373.2,285.8 374.5,286.5 376.1,287.8 376.3,288.2 376,289.1 374.9,288 373.3,287.6 372.5,289.1 373.9,290 373.6,291.3 372.9,291.4 371.9,293.5 371.1,293.6 371.1,292.9 371.5,291.7 371.9,291.2 371.2,289.8 370.6,288.5 369.8,288.2 369.3,287.2 368.1,286.7 367.3,285.7 365.9,285.6 364.5,284.5 362.7,282.8 361.5,281.4 360.9,278.8 360,278.5 358.5,277.7 357.6,278 356.5,279.2 355.8,279.4 356,278.3 355,278 354.5,275.9 355.1,275.1 354.6,274.1 354.6,273.4 355.4,273.9 356.4,273.8 357.4,272.9 357.7,273.3 358.6,273.2 359,272.2 360.4,272.5 361.2,272.1ZM370.8,292.9 370.1,294.8 370.4,295.5 370,296.7 368.6,295.8 367.7,295.5 365.1,294.4 365.3,293.1 367.5,293.4 369.4,293.1ZM359.1,285.7 360.2,287.4 359.9,290.6 359.1,290.5 358.3,291.3 357.6,290.6 357.5,287.7 357.1,286.3 358.1,286.4Z"/>
<path class="c2" d="M359.8,269.2 359.8,269.7 359.6,270.4 360.4,270.9 361.3,271 361.2,272.1 360.4,272.5 359,272.2 358.6,273.2 357.7,273.3 357.4,272.9 356.4,273.8 355.4,273.9 354.6,273.4 354,272.2 353.1,272.6 353.2,271.4 354.5,269.9 354.5,269.2 355.3,269.4 355.8,268.9 357.4,269 357.8,268.4Z"/>
<path class="c2" d="M348.1,258.3 349.5,258.5 351.2,257.9 352.4,259.2 353.4,259.9 353.2,261.8 352.7,262 352.5,263.6 350.8,262.2 349.9,262.5 348.6,261.1 347.7,259.9 346.9,259.9 346.6,258.9Z"/>
<path class="c3" d="M353.2,261.8 353.5,262.5 353.4,263.8 352.9,263.8 352.5,263.6 352.7,262Z"/>
<path class="c1" d="M394.5,274.7 395.3,275.2 396.2,274.8 397,275.2 397.1,275.9 396.2,276.5 395.6,276.2 395.1,279.4 394,279.1 392.6,278.2 390.4,278.8 389.5,279.4 386.8,279.3 385.3,278.9 384.6,279.1 384.1,278 383.7,277.6 384.2,277.1 383.7,276.8 383.1,277.4 382,276.6 381.9,275.5 380.8,274.9 380.6,274.1 379.5,273 381,272.5 382.2,270.7 383,268.8 384.2,268.2 385,267.6 386.1,267.9 387.3,268 388.2,268.6 388.8,268.2 390.2,267.9 390.7,267.3 391.5,267.3 392,267.6 392.6,268.4 393.2,269.5 394.3,272.4 394.1,273.5Z"/>
<path class="c1" d="M372.1,271.1 372.7,269.3 372.3,268.7 373.4,268.7 373.5,267.6 374.5,268.3 375.2,268.6 376.7,268.2 376.9,267.7 377.6,267.6 378.5,267.1 378.7,267.3 379.6,267 380,266.3 380.6,266.2 382.6,267 383,266.7 384.1,267.5 384.2,268.2 383,268.8 382.2,270.7 381,272.5 379.5,273 378.4,272.9 377,273.6 376.3,274 374.7,273.5 373.3,272.3 372.7,272 372.4,271.1Z"/>
<path class="c2" d="M390.8,299.7 390.6,300.4 387.9,300.6 388,300.2 385.7,299.7 386,298.8 387.1,299.5 388.5,299.4 389.9,299.6 389.8,300ZM384.6,285.4 386,285.4 387.5,284.8 388.8,285.6 390.5,285.4 390.5,284.1 391.4,284.8 390.8,286.3 390.4,286.6 389.3,286.6 388.3,286.3 386,287 387.3,288.4 386.4,288.7 385.4,288.7 384.4,287.5 384,288 384.4,289.5 385.4,290.6 384.7,291.1 385.7,292.2 386.6,292.9 386.7,294.2 384.9,293.6 385.5,294.8 384.3,295.1 385,297.1 383.8,297.1 382.2,296.2 381.6,294.3 381.2,292.7 380.5,291.6 379.5,290.2 379.4,289.6 380.3,288.4 380.4,287.6 381,287.2 381,286.6 382.2,286.4 383,285.8 384,285.9 384.3,285.5ZM385.5,291.3 387,292.2 387.5,293.4 386.6,292.7 385.3,291.8ZM390.3,290.3 391.4,290.8 391.1,291.2ZM393.7,297.6 394.4,297.2 394,298.3ZM378.6,289.1 379.1,289.9 378.9,290.1ZM379.9,292.7 380.6,293.2 380.1,293.3ZM390.1,292.2 390.5,292.7 390.1,293Z"/>
<path class="c3" d="M373.5,267.6 373.4,268.7 372.3,268.7 372.7,269.3 372.1,271.1 371.7,271.5 370.1,271.6 369.1,272.2 367.6,272 365,271.3 364.5,270.3 362.7,270.8 362.5,271.3 361.3,271 360.4,270.9 359.6,270.4 359.8,269.7 359.8,269.2 360.3,269.1 361.3,269.8 361.5,269.1 363.2,269.2 364.5,268.7 365.4,268.8 366,269.4 366.2,268.9 365.9,267.1 366.6,266.7 367.2,265.4 368.6,266.3 369.6,265.2 370.3,265 371.8,265.9 372.6,265.7 373.5,266.2 373.3,266.6Z"/>
<path class="c3" d="M367.6,272 369.1,272.2 370.1,271.6 371.7,271.5 372.1,271.1 372.4,271.1 372.7,272 371.3,272.7 371.1,273.8 370.4,274.1 370.4,274.8 369.7,274.8 369.1,274.3 368.7,274.8 367.5,274.7 367.9,274.4 367.4,273.3Z"/>
<path class="c4" d="M377,273.6 377.4,274.6 378,275.4 377.3,276.4 376.4,275.8 375.2,275.8 373.6,275.4 372.7,275.5 372.3,276 371.6,275.4 371.2,276.5 372.1,277.7 372.6,278.5 373.4,279.5 374.1,280 374.8,281.1 376.5,282.1 376.3,282.5 374.5,281.6 373.4,280.7 371.7,279.9 370.2,278 370.5,277.8 369.7,276.7 369.6,275.8 368.5,275.4 367.9,276.5 367.3,275.6 367.4,274.7 367.5,274.7 368.7,274.8 369.1,274.3 369.7,274.8 370.4,274.8 370.4,274.1 371.1,273.8 371.3,272.7 372.7,272 373.3,272.3 374.7,273.5 376.3,274Z"/>
<path class="c4" d="M384.1,278 384.6,279.1 385.3,278.9 386.8,279.3 389.5,279.4 390.4,278.8 392.6,278.2 394,279.1 395.1,279.4 394.1,280.4 393.4,282.3 394,283.7 392.4,283.4 390.5,284.1 390.5,285.4 388.8,285.6 387.5,284.8 386,285.4 384.6,285.4 384.5,283.7 383.6,282.9 383.9,282.6 383.7,282.3 384,281.4 384.7,280.7 383.8,279.5 383.6,278.6Z"/>
<path class="c4" d="M331.4,248.4 330.4,250.5 329,249.9 327.8,249.9 328.2,248.2 327.8,246.5 329.4,246.4ZM336.3,234.5 334.3,238.4 336.2,237.9 338.3,237.9 337.8,240.7 336.1,243.7 338,243.9 339.9,248.1 341.1,248.7 342.3,252.2 342.8,253.5 345,254 344.8,256 343.9,256.9 344.6,258.4 342.9,260 340.4,260 337.3,260.8 336.4,260.2 335.2,261.6 333.5,261.2 332.1,262.3 331.2,261.8 333.9,258.7 335.6,258 332.6,257.5 332.1,256.3 334.1,255.4 333,253.7 333.4,251.7 336.2,252 336.4,250.2 335.2,248.1 332.9,247.6 332.5,246.7 333.1,245.2 332.5,244.4 331.5,245.9 331.4,242.7 330.5,241 331.1,237.4 332.6,234.6 334.1,234.8ZM328.3,238.5 330.4,238.2 330.6,239.9 329.4,240.3ZM328.9,235.7 330.4,235 329.8,237.1 328.7,237.5ZM335.8,232.9 337.1,232.5 336.7,233.9 335.6,233.6ZM339.1,227.3 340.2,227.3 339.9,229.9 338.9,229.2Z"/>
<path class="c4" d="M360.4,247 360.4,248.2 362.3,249 362.3,250.1 364.2,249.5 365.2,248.6 367.3,249.9 368.2,250.9 368.6,252.5 368.1,253.3 368.8,254.4 369.3,256 369.1,257.1 369.9,259 369,259.3 368.5,258.9 368.1,259.5 366.7,260.1 366.1,260.8 364.7,261.4 365,262.3 365.2,263.5 366.2,264.2 367.2,265.4 366.6,266.7 365.9,267.1 366.2,268.9 366,269.4 365.4,268.8 364.5,268.7 363.2,269.2 361.5,269.1 361.3,269.8 360.3,269.1 359.8,269.2 357.8,268.4 357.4,269 355.8,268.9 356,267 357,265 354.3,264.5 353.4,263.8 353.5,262.5 353.2,261.8 353.4,259.9 353.1,256.8 354.2,256.8 354.6,255.6 355.1,252.8 354.8,251.8 355.1,251.1 356.7,250.9 357,251.6 358.3,250.1 357.9,248.8 357.8,247 359.2,247.5Z"/>
<path class="c4" d="M353.2,251.7 354.8,251.8 355.1,252.8 354.6,255.6 354.2,256.8 353.1,256.8 353.4,259.9 352.4,259.2 351.2,257.9 349.5,258.5 348.1,258.3 349,257.4 350.7,253Z"/>
<path class="c4" d="M369.9,259 370.7,259.9 372.1,260.2 372,261 373,261.6 373.3,260.9 374.6,261.2 374.8,262.1 376.1,262.2 377,263.7 376.4,263.7 376.2,264.2 375.7,264.3 375.6,265 375.3,265.1 375.2,265.4 374.6,265.7 373.7,265.6 373.5,266.2 372.6,265.7 371.8,265.9 370.3,265 369.6,265.2 368.6,266.3 367.2,265.4 366.2,264.2 365.2,263.5 365,262.3 364.7,261.4 366.1,260.8 366.7,260.1 368.1,259.5 368.5,258.9 369,259.3Z"/>
<path class="c4" d="M383.2,206.1 381.4,209.2 381.7,211.9 378.7,215.3 375.1,218.9 373.8,224.5 375.1,227.2 376.9,229.3 375.2,233.4 373.2,234.2 372.5,240.1 371.5,243.3 369.2,243 368.2,245.6 366,245.7 365.4,242.6 363.9,238.7 362.4,233.7 363.3,231.7 364.8,229.1 365.4,224.7 364.2,222.7 364.1,217.3 365.3,213.4 367.2,213.5 367.8,211.7 367.2,210.3 370,204 371.9,198.8 373.1,195.3 374.9,195.3 375.4,192.5 378.9,193.3 379.2,189.9 380.3,189.7 382.8,192.2 385.7,195.6 385.8,203 386.4,204.8ZM375.8,237.1 377.3,237.1 376.7,239.6 375.8,240.3ZM372.4,242.6 373.7,239.2 373.4,240.9Z"/>
<path class="c4" d="M395.1,189.9 394.9,193.5 397.7,196.8 396,200.5 398.2,205.7 396.9,209.6 398.6,212.8 397.8,215.6 400.6,218.4 399.9,220.4 398.1,222.7 394.2,227.7 390.8,228 387.5,229.3 384.5,230.1 383.4,228.1 381.6,226.8 382,223 381.1,219.4 382,217.1 383.7,214.4 387.9,209.8 389.2,208.9 389,207 386.4,204.8 385.8,203 385.7,195.6 382.8,192.2 380.3,189.7 381.4,188.3 383.5,191.1 386,190.8 388,192.1 389.7,189.8 390.6,185.9 393.5,184.1 395.9,186.2Z"/>
<path class="c5" d="M394.3,178.3 400.2,182.5 397.8,183.9 399.8,187.3 396.6,189.4 395.1,189.9 395.9,186.2 393.5,184.1 390.6,185.9 389.7,189.8 388,192.1 386,190.8 383.5,191.1 381.4,188.3 380.3,189.7 379.2,189.9 378.9,193.3 375.4,192.5 374.9,195.3 373.1,195.3 371.9,198.8 370,204 367.2,210.3 367.8,211.7 367.2,213.5 365.3,213.4 364.1,217.3 364.2,222.7 365.4,224.7 364.8,229.1 363.3,231.7 362.4,233.7 361.2,231.5 357.5,235.7 355,236.5 352.5,234.7 351.8,230.8 351.2,222 352.9,219.4 357.8,216 361.5,211.6 364.9,205.4 369.4,196.3 372.5,192.5 377.6,185.9 381.7,183.5 384.8,183.8 387.6,179.2 391,179.4ZM387.9,131.1 383.8,134.7 380.5,132.6 381.8,130.3 380.6,127.5 380.3,125.2 381.7,123.3 384.5,124.7 385.2,129ZM401.1,108.9 403.3,108.3 402.6,109.7ZM393.1,122.8 395.9,121.9 395.1,123.3ZM362.2,127 363.9,122.4 364.3,126.1 362.9,128.9ZM376.9,157.3 377.8,158 377.3,158.7ZM375.9,113.4 382,120.8 377.3,124.6 376.3,131.3 374.7,132.9 373.8,139.9 371.5,140.3 367.5,135.2 369.2,132.1 366.4,129.6 362.8,121.7 361.3,113.9 366.4,110.1 367.5,113.8 370.1,113.7 370.8,110 373.5,109.7ZM389.3,105.7 392.9,109.6 390.2,115.2 384.8,116.4 379.3,114.7 379,111.9 376.3,111.7 374.2,106.7 380,103.6 382.7,106.3 384.6,102.9Z"/>
<path class="c5" d="M365.5,244.9 364.4,247.6 362.5,245.7 362.2,244.4 364.9,243.3ZM362.2,242.1 361.8,243.4 361.2,243 359.9,245.4 360.4,247 359.2,247.5 357.8,247 357,245.2 357,241.8 357.3,240.9 357.8,239.9 359.4,239.7 360.1,238.7 361.6,237.7 361.6,239.5 361,240.6 361.2,241.6ZM360.2,245.3 361.8,245.3 362,246.6 360.7,246.8ZM362.4,247.2 364.1,247.2 363.9,248.2 362.6,247.9ZM369.3,245.9 370.1,246.6 369.6,246.9Z"/>
<path class="c5" d="M368.2,250.9 369.5,250 372.4,248.5 374.7,247.4 376.6,247.9 376.7,248.7 378.5,248.7 380.8,249.1 384.2,249.1 385.2,249.4 385.6,250.4 385.7,251.8 386.2,253 386.2,254.2 385.1,254.8 385.7,256.2 385.7,257.6 386.6,260.1 386.4,261 385.5,261.3 383.8,263.7 384.3,265 383.9,264.8 382.1,263.7 380.8,264.1 379.9,263.9 378.8,264.5 377.9,263.5 377.1,263.8 377,263.7 376.1,262.2 374.8,262.1 374.6,261.2 373.3,260.9 373,261.6 372,261 372.1,260.2 370.7,259.9 369.9,259 369.1,257.1 369.3,256 368.8,254.4 368.1,253.3 368.6,252.5Z"/>
<path class="c5" d="M383.9,264.8 383.4,265.6 383,266.7 382.6,267 380.6,266.2 380,266.3 379.6,267 378.7,267.3 378.5,267.1 377.6,267.6 376.9,267.7 376.7,268.2 375.2,268.6 374.5,268.3 373.5,267.6 373.3,266.6 373.5,266.2 373.7,265.6 374.6,265.7 375.2,265.4 375.3,265.1 375.6,265 375.7,264.3 376.2,264.2 376.4,263.7 377,263.7 377.1,263.8 377.9,263.5 378.8,264.5 379.9,263.9 380.8,264.1 382.1,263.7Z"/>
<path class="c6" d="M387.2,237.5 387.4,235.4 386.7,235.9 385.5,234.6 385.4,232.5 387.7,231.5 390,231 392.1,231.6 394,231.5 394.3,232.1 393,234.2 393.5,237.5 392.7,238.6 391.2,238.6 389.6,237.3 388.7,236.9ZM382.7,235 384.7,234.7 385.1,235.7 383.2,236.8ZM383,233.2 384.5,233.2 384.2,234.1Z"/>
<path class="c6" d="M381.1,243.5 381.2,241 382.1,238.8 383.8,237.7 385.3,240.2 386.8,240.2 387.2,237.5 388.7,236.9 389.6,237.3 391.2,238.6 392.7,238.6 393.6,239.4 393.8,241.1 394.4,243.1 392.4,244.4 391.2,244.9 389.4,243.3 388.4,243.1 388.2,242.4 386.4,242.7 383.2,242.5Z"/>
<path class="c6" d="M384.2,249.1 384.1,248.3 384.3,247.4 383.5,246.8 381.5,246.3 381.1,243.5 383.2,242.5 386.4,242.7 388.2,242.4 388.4,243.1 389.4,243.3 391.2,244.9 391.4,246.4 389.9,247.4 389.5,249.2 387.4,250.4 385.6,250.4 385.2,249.4Z"/>
<path class="ua" d="M401.1,256 401.8,256.1 402.2,255.4 402.8,255.6 404.7,255.3 405.9,257 405.5,257.6 405.6,258.5 407.1,258.7 407.8,260 407.7,260.5 410.1,261.6 411.5,261.1 412.7,262.5 413.7,262.4 416.5,263.4 416.5,264.2 415.7,265.7 416.2,267.3 415.9,268.2 414.1,268.4 413.1,269.1 413.1,270.4 411.6,270.6 410.3,271.5 408.6,271.6 407,272.6 407.1,274.3 408,274.9 409.9,274.8 409.5,275.7 407.5,276.2 405,277.7 403.9,277.2 404.4,275.9 402.3,275.1 402.6,274.6 404.4,273.8 403.9,273.1 401,272.5 400.9,271.4 399.1,271.8 398.5,273.3 397,275.2 396.2,274.8 395.3,275.2 394.5,274.7 394.9,274.4 395.3,273.5 395.8,272.7 395.6,272.2 396,272 396.2,272.3 397.3,272.4 397.8,272.2 397.5,271.9 397.6,271.5 396.9,270.8 396.7,269.7 396,269.3 396.1,268.3 395.3,267.6 394.5,267.4 393.1,266.6 391.9,266.9 391.5,267.3 390.7,267.3 390.2,267.9 388.8,268.2 388.2,268.6 387.3,268 386.1,267.9 385,267.6 384.2,268.2 384.1,267.5 383,266.7 383.4,265.6 383.9,264.8 384.3,265 383.8,263.7 385.5,261.3 386.4,261 386.6,260.1 385.7,257.6 386.6,257.4 387.6,256.6 389.1,256.6 390.9,256.8 393,257.5 394.5,257.6 395.2,258 395.9,257.5 396.4,258.2 398,258 398.8,258.3 398.9,256.8 399.5,256.2Z"/>
<path class="c5 s5" d="M365.9,196.1 367.2,194.1 369.1,192.1 370.2,189.2 371.7,188.7 373.9,187.1 375.8,184.7 378.4,183.6 380.3,183 382.9,181.1 385.3,180.2 386.6,179.1 389.9,178.5 389.6,181.6 385.8,185.5 382.1,186 378.6,188.2 374.3,192.8 371.3,197.3 369.1,199.2 367.6,198.8Z"/>
<path class="c5 s5" d="M350.8,227.7 351.2,223.8 350.9,221.9 352.3,220.7 352.9,219.4 354.9,217.8 357.2,215.8 359,213.7 360.9,211.1 362.9,208.5 364.1,205.8 365.4,203.9 366.5,206.7 363.9,212.4 360.5,217 355.9,221.1 353.8,224.6 353.6,229.9 351.6,231.4Z"/>
</g>
</svg>
<div id="title">Ukraine Support Tracker</div>
<div id="subtitle">Total bilateral aid: Government commitments in % of GDP</div>
<svg id="logo" viewBox="0 0 60 45" width="60" height="45">
<circle cx="25.4" cy="26.9" r="9.4" fill="#fbfdff" stroke="#e3eefb" stroke-width="0.7"/>
<path d="M17 23.5 H30 M16.5 28.2 H30 M20.5 19 Q17.5 27 21 35" fill="none" stroke="#d9e7f9" stroke-width="0.7"/>
<path d="M24.6 16.4 Q30.5 16.8 33.5 21.6 Q35.6 26.2 33.6 31.4 Q30.5 37 23.2 37.4 Q21.6 34 22.6 26.5 Q23 20 24.6 16.4 Z" fill="#a9c8ef"/>
<path d="M23 24 H34.3 M22.6 29 H34.2" fill="none" stroke="#bcd5f3" stroke-width="0.6"/>
<path d="M12.6 22 Q7.6 24.3 11.4 28.4 Q18.5 35.2 35.6 33.5 Q20.5 33.6 14 27.4 Q11 24.2 12.6 22 Z" fill="#0d3f8f" stroke="#0d3f8f" stroke-width="0.5" stroke-linejoin="round"/>
<text y="20.7" font-family="'Liberation Sans',Arial,sans-serif" font-style="italic" fill="#0a0a0a"><tspan x="27.6" font-weight="bold" font-size="12" stroke="#0a0a0a" stroke-width="0.3">i</tspan><tspan x="30.2" y="23.6" font-size="17.5" font-weight="normal">f</tspan><tspan x="36.3" y="20.7" font-weight="bold" font-size="12.2" stroke="#0a0a0a" stroke-width="0.35">w</tspan></text>
<rect x="28" y="10.6" width="4.3" height="3.3" fill="#fff"/>
</svg>
<div id="legend">
<div class="lg" style="top:358.0px;background:#04428e"></div><div class="lt" style="top:357.90px"><span class="ch">&gt;</span> 0.75%</div>
<div class="lg" style="top:376.0px;background:#3069a3"></div><div class="lt" style="top:375.27px">0.45% - 0.75%</div>
<div class="lg" style="top:393.5px;background:#628dba"></div><div class="lt" style="top:392.64px">0.25% - 0.45%</div>
<div class="lg" style="top:411.0px;background:#94b0d2"></div><div class="lt" style="top:410.01px">0.15% - 0.25%</div>
<div class="lg" style="top:428.6px;background:#c4d4e6"></div><div class="lt" style="top:427.38px">0.05% - 0.15%</div>
<div class="lg" style="top:445.7px;background:#dee5f0"></div><div class="lt" style="top:444.75px"><span class="ch">&lt;</span> 0.05%</div>
<div class="lg" style="top:463.4px;background:#f3f3f3"></div><div class="lt" style="top:462.12px">No data</div>
</div>
<div id="ne">NaturalEarth</div>
<div id="source">Source: Trebesch et al. (2023) Kiel Working Paper "The Ukraine Support Tracker"</div>
<div id="url">ifw-kiel.de/ukrainetracker</div>
<svg id="anno" viewBox="0 0 680 539" width="680" height="539">
<path d="M381.4,78.4C383.1,78.5 388.3,78.7 391.5,78.9C394.7,79.1 397.3,79.5 400.7,79.7C404.1,79.9 406.9,80.1 411.8,80.2C416.7,80.3 423.9,80.5 430,80.5C436.1,80.5 443.3,80.3 448.5,80.1C453.7,79.9 457.1,79.7 461.4,79.3C465.7,78.9 470.6,78.3 474.3,77.8C478,77.3 480.9,76.7 483.5,76.1C486.1,75.5 488.3,74.8 489.9,74.3C491.4,73.8 492.3,73 492.8,72.8" fill="none" stroke="#fc0a10" stroke-width="2.3" stroke-linecap="round" stroke-linejoin="round"/>
<path d="M37.1,327.4C36.3,327.9 34,329.6 32.5,330.5C31,331.4 29.6,331.9 28.2,332.6C26.8,333.3 25.9,333.9 24.1,334.8C22.3,335.7 19.4,337.1 17.6,338.2C15.8,339.3 14.8,340.1 13.5,341.4C12.2,342.6 10.8,343.6 9.6,345.7C8.3,347.8 7,351.1 6,354.1C5,357.1 4.3,360.1 3.6,363.7C2.9,367.3 2.3,371.8 1.9,375.8C1.5,379.8 1.4,383.4 1.4,387.8C1.4,392.2 1.5,397.5 1.7,402.3C1.9,407.1 2,411.9 2.4,416.7C2.8,421.5 3.4,426.4 4.1,431.2C4.8,436 5.7,442.2 6.5,445.7C7.3,449.2 8.1,450 8.8,452C9.6,454 10,456.1 11,457.9C12,459.7 13.5,461.3 14.7,463C15.9,464.7 17.4,466.3 18.4,468.2C19.4,470.1 19.8,472.5 20.6,474.1C21.5,475.7 22.5,476.4 23.5,477.7C24.5,479 25.5,480.9 26.5,482.1C27.5,483.3 28.5,483.8 29.4,485.1C30.2,486.5 30.5,488.5 31.6,490.2C32.7,491.9 34.4,493.8 36,495.4C37.6,497 39.4,498.4 41.2,499.8C43.1,501.2 44.9,502.5 47.1,503.5C49.3,504.5 51.7,505.2 54.4,505.7C57.1,506.2 60,506.4 63.2,506.7C66.4,507 69.8,507.1 73.5,507.3C77.2,507.5 82.2,507.8 85.3,507.8C88.4,507.8 89.6,507.6 92,507.5C94.4,507.4 96.9,507.4 99.5,507.2C102.1,506.9 105.2,506.8 107.8,506C110.4,505.2 112.7,503.7 114.9,502.4C117.1,501.1 118.7,499.4 120.9,498.3C123.1,497.2 125.4,497 128,495.9C130.6,494.8 133.7,493.4 136.3,491.8C138.9,490.2 141.2,488.1 143.4,486.4C145.6,484.7 147.9,483.2 149.3,481.7C150.7,480.2 150.7,479.3 151.7,477.5C152.7,475.7 154,473.3 155.3,471C156.6,468.7 158.1,466.1 159.4,463.9C160.7,461.7 162.1,459.7 163,457.9C163.9,456.1 164,455.1 164.7,453.3C165.4,451.6 166.4,449.4 167.1,447.4C167.8,445.4 168.3,443.5 168.8,441.5C169.3,439.5 169.6,437.7 170,435.5C170.4,433.3 170.8,430.8 171,428.4C171.2,426 171.1,423.7 171,421.3C170.9,418.9 170.8,416.2 170.3,414.2C169.8,412.2 168.9,411.2 168.2,409.4C167.5,407.6 166.8,405.5 165.9,403.5C165,401.5 163.9,399.3 162.9,397.6C161.9,395.9 160.7,394.9 159.9,393.5C159.1,392.1 158.7,390.5 158,389C157.3,387.5 156.5,386.4 155.8,384.6C155.1,382.8 155,379.7 154,378.1C153,376.5 151,376.4 149.9,375.1C148.8,373.8 148.3,372 147.5,370.4C146.7,368.8 146.3,367 145.1,365.6C143.9,364.2 141.6,363.2 140.4,362C139.2,360.8 139.2,359.7 138,358.5C136.8,357.3 135,356.3 133.2,354.9C131.4,353.5 129.3,351.3 127.3,350.2C125.3,349.1 123.6,349.4 121.4,348.4C119.2,347.4 116.6,345.1 114.2,344C111.8,342.9 109.5,342.4 107.1,341.9C104.7,341.3 102.5,341.1 100,340.7C97.5,340.3 95.8,339.7 91.8,339.3C87.8,338.9 80.9,338.2 75.9,338.1C70.9,338 67.1,338.2 61.8,338.6C56.5,339.1 49.7,339.8 44.1,340.8C38.5,341.8 30.9,343.8 28.2,344.4" fill="none" stroke="#fc0a10" stroke-width="2.4" stroke-linecap="round" stroke-linejoin="round"/>

</svg>
</body>
</html>
